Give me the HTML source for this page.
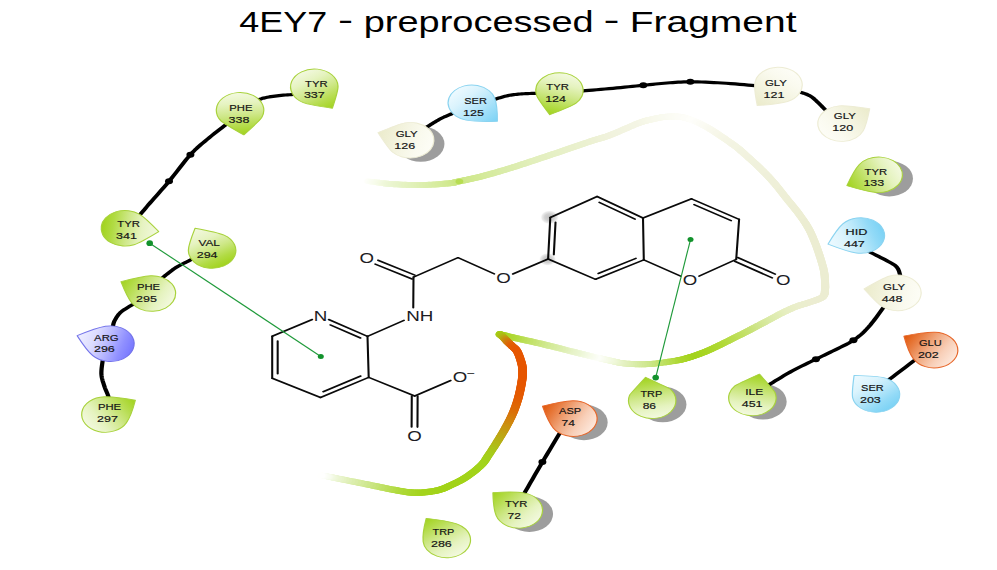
<!DOCTYPE html>
<html><head><meta charset="utf-8"><title>4EY7 - preprocessed - Fragment</title>
<style>
html,body{margin:0;padding:0;background:#fff;}
body{width:997px;height:570px;overflow:hidden;font-family:"Liberation Sans",sans-serif;}
svg{display:block;}
.t{font-family:"Liberation Sans",sans-serif;font-size:30.0px;fill:#000;}
.r{font-family:"Liberation Sans",sans-serif;font-size:9.8px;fill:#151515;stroke:#151515;stroke-width:0.18px;}
.a{font-family:"Liberation Sans",sans-serif;font-size:13.8px;fill:#1c1c24;}
</style></head><body>
<svg width="997" height="570" viewBox="0 0 997 570">
<defs>
<linearGradient id="g0" gradientUnits="userSpaceOnUse" x1="249.3" y1="108.2" x2="226.19" y2="71.77"><stop offset="0" stop-color="#a1d31c"/><stop offset="0.24" stop-color="#b7dd51"/><stop offset="0.48" stop-color="#cfe88a"/><stop offset="0.74" stop-color="#e5f3bf"/><stop offset="1" stop-color="#f3f9e0"/></linearGradient>
<linearGradient id="g1" gradientUnits="userSpaceOnUse" x1="182.85" y1="134.9" x2="178.02" y2="92.62"><stop offset="0" stop-color="#a1d31c"/><stop offset="0.24" stop-color="#b7dd51"/><stop offset="0.48" stop-color="#cfe88a"/><stop offset="0.74" stop-color="#e5f3bf"/><stop offset="1" stop-color="#f3f9e0"/></linearGradient>
<linearGradient id="g2" gradientUnits="userSpaceOnUse" x1="119.02" y1="231.6" x2="76.02" y2="226"><stop offset="0" stop-color="#f3f9e0"/><stop offset="0.3" stop-color="#e6f3c1"/><stop offset="0.55" stop-color="#cee888"/><stop offset="0.8" stop-color="#b1db43"/><stop offset="1" stop-color="#a1d31c"/></linearGradient>
<linearGradient id="g3" gradientUnits="userSpaceOnUse" x1="146.33" y1="228.2" x2="167.91" y2="265.95"><stop offset="0" stop-color="#f3f9e0"/><stop offset="0.3" stop-color="#e6f3c1"/><stop offset="0.55" stop-color="#cee888"/><stop offset="0.8" stop-color="#b1db43"/><stop offset="1" stop-color="#a1d31c"/></linearGradient>
<linearGradient id="g4" gradientUnits="userSpaceOnUse" x1="90.75" y1="281.7" x2="129.79" y2="301.58"><stop offset="0" stop-color="#a1d31c"/><stop offset="0.24" stop-color="#b7dd51"/><stop offset="0.48" stop-color="#cfe88a"/><stop offset="0.74" stop-color="#e5f3bf"/><stop offset="1" stop-color="#f3f9e0"/></linearGradient>
<linearGradient id="g5" gradientUnits="userSpaceOnUse" x1="57.9" y1="335.7" x2="99.75" y2="349.14"><stop offset="0" stop-color="#efefff"/><stop offset="0.3" stop-color="#dcdcff"/><stop offset="0.55" stop-color="#b9b9ff"/><stop offset="0.8" stop-color="#9090ff"/><stop offset="1" stop-color="#7878ff"/></linearGradient>
<linearGradient id="g6" gradientUnits="userSpaceOnUse" x1="101.5" y1="400.23" x2="64.03" y2="424.05"><stop offset="0" stop-color="#a1d31c"/><stop offset="0.24" stop-color="#b7dd51"/><stop offset="0.48" stop-color="#cfe88a"/><stop offset="0.74" stop-color="#e5f3bf"/><stop offset="1" stop-color="#f3f9e0"/></linearGradient>
<linearGradient id="g7" gradientUnits="userSpaceOnUse" x1="283.5" y1="132.6" x2="324.63" y2="145.54"><stop offset="0" stop-color="#ebebcb"/><stop offset="0.24" stop-color="#f0f0d7"/><stop offset="0.48" stop-color="#f5f5e3"/><stop offset="0.74" stop-color="#fafaef"/><stop offset="1" stop-color="#fdfdf6"/></linearGradient>
<linearGradient id="g8" gradientUnits="userSpaceOnUse" x1="373.03" y1="121.23" x2="341.02" y2="90.46"><stop offset="0" stop-color="#7bd2f5"/><stop offset="0.24" stop-color="#9addf8"/><stop offset="0.48" stop-color="#bbe8fb"/><stop offset="0.74" stop-color="#daf3fd"/><stop offset="1" stop-color="#eefaff"/></linearGradient>
<linearGradient id="g9" gradientUnits="userSpaceOnUse" x1="412.35" y1="114.7" x2="424.63" y2="73.44"><stop offset="0" stop-color="#a1d31c"/><stop offset="0.24" stop-color="#b7dd51"/><stop offset="0.48" stop-color="#cfe88a"/><stop offset="0.74" stop-color="#e5f3bf"/><stop offset="1" stop-color="#f3f9e0"/></linearGradient>
<linearGradient id="g10" gradientUnits="userSpaceOnUse" x1="567.98" y1="105.6" x2="594.75" y2="70.91"><stop offset="0" stop-color="#ebebcb"/><stop offset="0.24" stop-color="#f0f0d7"/><stop offset="0.48" stop-color="#f5f5e3"/><stop offset="0.74" stop-color="#fafaef"/><stop offset="1" stop-color="#fdfdf6"/></linearGradient>
<linearGradient id="g11" gradientUnits="userSpaceOnUse" x1="652.28" y1="108.8" x2="616.54" y2="133.81"><stop offset="0" stop-color="#ebebcb"/><stop offset="0.24" stop-color="#f0f0d7"/><stop offset="0.48" stop-color="#f5f5e3"/><stop offset="0.74" stop-color="#fafaef"/><stop offset="1" stop-color="#fdfdf6"/></linearGradient>
<linearGradient id="g12" gradientUnits="userSpaceOnUse" x1="635.18" y1="185.7" x2="675.21" y2="167.4"><stop offset="0" stop-color="#a1d31c"/><stop offset="0.24" stop-color="#b7dd51"/><stop offset="0.48" stop-color="#cfe88a"/><stop offset="0.74" stop-color="#e5f3bf"/><stop offset="1" stop-color="#f3f9e0"/></linearGradient>
<linearGradient id="g13" gradientUnits="userSpaceOnUse" x1="621" y1="244.1" x2="662.4" y2="229.63"><stop offset="0" stop-color="#eefaff"/><stop offset="0.3" stop-color="#dcf4fd"/><stop offset="0.55" stop-color="#bae8fa"/><stop offset="0.8" stop-color="#92daf7"/><stop offset="1" stop-color="#7bd2f5"/></linearGradient>
<linearGradient id="g14" gradientUnits="userSpaceOnUse" x1="648.08" y1="288.9" x2="690.63" y2="295.71"><stop offset="0" stop-color="#ebebcb"/><stop offset="0.24" stop-color="#f0f0d7"/><stop offset="0.48" stop-color="#f5f5e3"/><stop offset="0.74" stop-color="#fafaef"/><stop offset="1" stop-color="#fdfdf6"/></linearGradient>
<linearGradient id="g15" gradientUnits="userSpaceOnUse" x1="677.97" y1="336.08" x2="715.7" y2="359.48"><stop offset="0" stop-color="#e05608"/><stop offset="0.24" stop-color="#e87d41"/><stop offset="0.48" stop-color="#f0a87f"/><stop offset="0.74" stop-color="#f8cfb8"/><stop offset="1" stop-color="#fde8dc"/></linearGradient>
<linearGradient id="g16" gradientUnits="userSpaceOnUse" x1="640.58" y1="375.4" x2="668.61" y2="408"><stop offset="0" stop-color="#eefaff"/><stop offset="0.3" stop-color="#dcf4fd"/><stop offset="0.55" stop-color="#bae8fa"/><stop offset="0.8" stop-color="#92daf7"/><stop offset="1" stop-color="#7bd2f5"/></linearGradient>
<linearGradient id="g17" gradientUnits="userSpaceOnUse" x1="569.55" y1="374.1" x2="560.47" y2="415.28"><stop offset="0" stop-color="#a1d31c"/><stop offset="0.24" stop-color="#b7dd51"/><stop offset="0.48" stop-color="#cfe88a"/><stop offset="0.74" stop-color="#e5f3bf"/><stop offset="1" stop-color="#f3f9e0"/></linearGradient>
<linearGradient id="g18" gradientUnits="userSpaceOnUse" x1="484.2" y1="377.3" x2="492.83" y2="418.11"><stop offset="0" stop-color="#a1d31c"/><stop offset="0.24" stop-color="#b7dd51"/><stop offset="0.48" stop-color="#cfe88a"/><stop offset="0.74" stop-color="#e5f3bf"/><stop offset="1" stop-color="#f3f9e0"/></linearGradient>
<linearGradient id="g19" gradientUnits="userSpaceOnUse" x1="406.88" y1="406.2" x2="445.74" y2="427"><stop offset="0" stop-color="#e05608"/><stop offset="0.24" stop-color="#e87d41"/><stop offset="0.48" stop-color="#f0a87f"/><stop offset="0.74" stop-color="#f8cfb8"/><stop offset="1" stop-color="#fde8dc"/></linearGradient>
<linearGradient id="g20" gradientUnits="userSpaceOnUse" x1="369.68" y1="492.6" x2="402.26" y2="522.29"><stop offset="0" stop-color="#a1d31c"/><stop offset="0.24" stop-color="#b7dd51"/><stop offset="0.48" stop-color="#cfe88a"/><stop offset="0.74" stop-color="#e5f3bf"/><stop offset="1" stop-color="#f3f9e0"/></linearGradient>
<linearGradient id="g21" gradientUnits="userSpaceOnUse" x1="319.67" y1="518.33" x2="345.42" y2="554.5"><stop offset="0" stop-color="#a1d31c"/><stop offset="0.24" stop-color="#b7dd51"/><stop offset="0.48" stop-color="#cfe88a"/><stop offset="0.74" stop-color="#e5f3bf"/><stop offset="1" stop-color="#f3f9e0"/></linearGradient>
<radialGradient id="halo"><stop offset="0" stop-color="#c2c2c2"/><stop offset="0.5" stop-color="#d0d0d0"/><stop offset="0.8" stop-color="#e6e6e6" stop-opacity="0.8"/><stop offset="1" stop-color="#ffffff" stop-opacity="0"/></radialGradient>
</defs>
<rect width="997" height="570" fill="#ffffff"/>
<g transform="scale(1.333333 1)">
<g fill="none" stroke-linecap="round">
<line x1="275.25" y1="181.1" x2="275.83" y2="181.2" stroke="#fffffe" stroke-width="5.61"/>
<line x1="275.83" y1="181.2" x2="276.59" y2="181.34" stroke="#fefefc" stroke-width="5.63"/>
<line x1="276.59" y1="181.34" x2="277.48" y2="181.5" stroke="#fdfef9" stroke-width="5.65"/>
<line x1="277.48" y1="181.5" x2="278.48" y2="181.68" stroke="#fcfef7" stroke-width="5.67"/>
<line x1="278.48" y1="181.68" x2="279.56" y2="181.87" stroke="#fbfdf5" stroke-width="5.69"/>
<line x1="279.56" y1="181.87" x2="280.68" y2="182.07" stroke="#fafdf2" stroke-width="5.71"/>
<line x1="280.68" y1="182.07" x2="281.82" y2="182.27" stroke="#f9fcf0" stroke-width="5.73"/>
<line x1="281.82" y1="182.27" x2="282.94" y2="182.46" stroke="#f8fcee" stroke-width="5.75"/>
<line x1="282.94" y1="182.46" x2="284.01" y2="182.64" stroke="#f7fceb" stroke-width="5.77"/>
<line x1="284.01" y1="182.64" x2="285" y2="182.8" stroke="#f6fbe9" stroke-width="5.79"/>
<line x1="285" y1="182.8" x2="285.88" y2="182.95" stroke="#f6fbe7" stroke-width="5.81"/>
<line x1="285.88" y1="182.95" x2="286.67" y2="183.09" stroke="#f4fae5" stroke-width="5.83"/>
<line x1="286.67" y1="183.09" x2="287.39" y2="183.23" stroke="#f4fae3" stroke-width="5.85"/>
<line x1="287.39" y1="183.23" x2="288.1" y2="183.36" stroke="#f2f9e1" stroke-width="5.87"/>
<line x1="288.1" y1="183.36" x2="288.83" y2="183.49" stroke="#f2f9df" stroke-width="5.89"/>
<line x1="288.83" y1="183.49" x2="289.61" y2="183.62" stroke="#f0f8dd" stroke-width="5.91"/>
<line x1="289.61" y1="183.62" x2="290.49" y2="183.74" stroke="#f0f8db" stroke-width="5.93"/>
<line x1="290.49" y1="183.74" x2="291.5" y2="183.87" stroke="#eef7d9" stroke-width="5.95"/>
<line x1="291.5" y1="183.87" x2="292.68" y2="183.98" stroke="#eef7d7" stroke-width="5.97"/>
<line x1="292.68" y1="183.98" x2="294.08" y2="184.1" stroke="#ecf6d5" stroke-width="5.99"/>
<line x1="294.08" y1="184.1" x2="295.7" y2="184.22" stroke="#ebf6d2" stroke-width="6"/>
<line x1="295.7" y1="184.22" x2="297.52" y2="184.36" stroke="#eaf5cf" stroke-width="6"/>
<line x1="297.52" y1="184.36" x2="299.52" y2="184.51" stroke="#e9f4cc" stroke-width="6"/>
<line x1="299.52" y1="184.51" x2="301.64" y2="184.65" stroke="#e7f4c9" stroke-width="6"/>
<line x1="301.64" y1="184.65" x2="303.86" y2="184.79" stroke="#e6f3c6" stroke-width="6"/>
<line x1="303.86" y1="184.79" x2="306.14" y2="184.91" stroke="#e5f3c2" stroke-width="6"/>
<line x1="306.14" y1="184.91" x2="308.45" y2="185.01" stroke="#e4f2bf" stroke-width="6"/>
<line x1="308.45" y1="185.01" x2="310.74" y2="185.08" stroke="#e2f2bc" stroke-width="6"/>
<line x1="310.74" y1="185.08" x2="312.99" y2="185.11" stroke="#e1f1b9" stroke-width="6"/>
<line x1="312.99" y1="185.11" x2="315.15" y2="185.1" stroke="#e0f0b6" stroke-width="6"/>
<line x1="315.15" y1="185.1" x2="317.32" y2="185.04" stroke="#def0b2" stroke-width="6"/>
<line x1="317.32" y1="185.04" x2="319.57" y2="184.94" stroke="#ddefaf" stroke-width="6"/>
<line x1="319.57" y1="184.94" x2="321.88" y2="184.8" stroke="#dceeac" stroke-width="6"/>
<line x1="321.88" y1="184.8" x2="324.2" y2="184.63" stroke="#daeea9" stroke-width="6"/>
<line x1="324.2" y1="184.63" x2="326.49" y2="184.44" stroke="#d9eda6" stroke-width="6"/>
<line x1="326.49" y1="184.44" x2="328.72" y2="184.24" stroke="#d8eda2" stroke-width="6"/>
<line x1="328.72" y1="184.24" x2="330.85" y2="184.02" stroke="#d7ec9f" stroke-width="6"/>
<line x1="330.85" y1="184.02" x2="332.83" y2="183.81" stroke="#d5ec9c" stroke-width="6"/>
<line x1="332.83" y1="183.81" x2="334.64" y2="183.6" stroke="#d4eb99" stroke-width="6"/>
<line x1="334.64" y1="183.6" x2="336.23" y2="183.4" stroke="#d3ea96" stroke-width="6"/>
<line x1="336.23" y1="183.4" x2="337.54" y2="183.22" stroke="#d2ea93" stroke-width="6"/>
<line x1="337.54" y1="183.22" x2="338.58" y2="183.04" stroke="#d1ea91" stroke-width="6"/>
<line x1="338.58" y1="183.04" x2="339.41" y2="182.88" stroke="#d0e990" stroke-width="6"/>
<line x1="339.41" y1="182.88" x2="340.1" y2="182.7" stroke="#d0e98e" stroke-width="6"/>
<line x1="340.1" y1="182.7" x2="340.7" y2="182.53" stroke="#cfe98c" stroke-width="6"/>
<line x1="340.7" y1="182.53" x2="341.27" y2="182.33" stroke="#cee88a" stroke-width="6"/>
<line x1="341.27" y1="182.33" x2="341.87" y2="182.12" stroke="#cde888" stroke-width="6"/>
<line x1="341.87" y1="182.12" x2="342.56" y2="181.88" stroke="#cde886" stroke-width="6"/>
<line x1="342.56" y1="181.88" x2="343.41" y2="181.61" stroke="#cce785" stroke-width="6"/>
<line x1="343.41" y1="181.61" x2="344.48" y2="181.3" stroke="#cbe783" stroke-width="6"/>
<line x1="344.48" y1="181.3" x2="345.71" y2="180.96" stroke="#cbe783" stroke-width="6"/>
<line x1="345.71" y1="180.96" x2="347.03" y2="180.61" stroke="#cce785" stroke-width="6"/>
<line x1="347.03" y1="180.61" x2="348.42" y2="180.24" stroke="#cde886" stroke-width="6"/>
<line x1="348.42" y1="180.24" x2="349.89" y2="179.84" stroke="#cde888" stroke-width="6"/>
<line x1="349.89" y1="179.84" x2="351.44" y2="179.42" stroke="#cee88a" stroke-width="6"/>
<line x1="351.44" y1="179.42" x2="353.04" y2="178.97" stroke="#cfe88c" stroke-width="6"/>
<line x1="353.04" y1="178.97" x2="354.71" y2="178.48" stroke="#d0e88e" stroke-width="6"/>
<line x1="354.71" y1="178.48" x2="356.42" y2="177.96" stroke="#d0e890" stroke-width="6"/>
<line x1="356.42" y1="177.96" x2="358.19" y2="177.4" stroke="#d1e991" stroke-width="6"/>
<line x1="358.19" y1="177.4" x2="360" y2="176.8" stroke="#d2e993" stroke-width="6"/>
<line x1="360" y1="176.8" x2="361.88" y2="176.15" stroke="#d2e995" stroke-width="6"/>
<line x1="361.88" y1="176.15" x2="363.86" y2="175.44" stroke="#d3e997" stroke-width="6"/>
<line x1="363.86" y1="175.44" x2="365.91" y2="174.69" stroke="#d4ea9a" stroke-width="6"/>
<line x1="365.91" y1="174.69" x2="368.03" y2="173.9" stroke="#d5ea9c" stroke-width="6"/>
<line x1="368.03" y1="173.9" x2="370.19" y2="173.09" stroke="#d6ea9e" stroke-width="6"/>
<line x1="370.19" y1="173.09" x2="372.38" y2="172.25" stroke="#d6eba0" stroke-width="6"/>
<line x1="372.38" y1="172.25" x2="374.58" y2="171.39" stroke="#d7eba2" stroke-width="6"/>
<line x1="374.58" y1="171.39" x2="376.77" y2="170.53" stroke="#d8eba4" stroke-width="6"/>
<line x1="376.77" y1="170.53" x2="378.94" y2="169.66" stroke="#d9eca7" stroke-width="6"/>
<line x1="378.94" y1="169.66" x2="381.08" y2="168.8" stroke="#daeca9" stroke-width="6"/>
<line x1="381.08" y1="168.8" x2="383.18" y2="167.94" stroke="#daecab" stroke-width="6"/>
<line x1="383.18" y1="167.94" x2="385.29" y2="167.06" stroke="#dbecad" stroke-width="6"/>
<line x1="385.29" y1="167.06" x2="387.4" y2="166.16" stroke="#dcedae" stroke-width="6"/>
<line x1="387.4" y1="166.16" x2="389.51" y2="165.25" stroke="#ddedb0" stroke-width="6"/>
<line x1="389.51" y1="165.25" x2="391.61" y2="164.34" stroke="#deedb2" stroke-width="6"/>
<line x1="391.61" y1="164.34" x2="393.72" y2="163.41" stroke="#deeeb4" stroke-width="6"/>
<line x1="393.72" y1="163.41" x2="395.83" y2="162.49" stroke="#dfeeb6" stroke-width="6"/>
<line x1="395.83" y1="162.49" x2="397.94" y2="161.56" stroke="#e0eeb8" stroke-width="6"/>
<line x1="397.94" y1="161.56" x2="400.04" y2="160.63" stroke="#e1efb9" stroke-width="6"/>
<line x1="400.04" y1="160.63" x2="402.15" y2="159.7" stroke="#e2efbb" stroke-width="6"/>
<line x1="402.15" y1="159.7" x2="404.26" y2="158.77" stroke="#e2efbd" stroke-width="6"/>
<line x1="404.26" y1="158.77" x2="406.37" y2="157.84" stroke="#e3efbe" stroke-width="6"/>
<line x1="406.37" y1="157.84" x2="408.47" y2="156.91" stroke="#e3efbf" stroke-width="6"/>
<line x1="408.47" y1="156.91" x2="410.58" y2="155.97" stroke="#e4efc0" stroke-width="6"/>
<line x1="410.58" y1="155.97" x2="412.69" y2="155.03" stroke="#e4efc1" stroke-width="6"/>
<line x1="412.69" y1="155.03" x2="414.8" y2="154.09" stroke="#e5f0c3" stroke-width="6"/>
<line x1="414.8" y1="154.09" x2="416.9" y2="153.14" stroke="#e5f0c4" stroke-width="6"/>
<line x1="416.9" y1="153.14" x2="419.01" y2="152.2" stroke="#e6f0c5" stroke-width="6"/>
<line x1="419.01" y1="152.2" x2="421.12" y2="151.25" stroke="#e6f0c6" stroke-width="6"/>
<line x1="421.12" y1="151.25" x2="423.22" y2="150.3" stroke="#e7f0c7" stroke-width="6"/>
<line x1="423.22" y1="150.3" x2="425.37" y2="149.33" stroke="#e7f0c8" stroke-width="6"/>
<line x1="425.37" y1="149.33" x2="427.57" y2="148.33" stroke="#e8f0ca" stroke-width="6"/>
<line x1="427.57" y1="148.33" x2="429.8" y2="147.31" stroke="#e8f0ca" stroke-width="6"/>
<line x1="429.8" y1="147.31" x2="432.03" y2="146.28" stroke="#e9f0cc" stroke-width="6"/>
<line x1="432.03" y1="146.28" x2="434.25" y2="145.26" stroke="#e9f0cc" stroke-width="6"/>
<line x1="434.25" y1="145.26" x2="436.44" y2="144.25" stroke="#eaf1ce" stroke-width="6"/>
<line x1="436.44" y1="144.25" x2="438.56" y2="143.28" stroke="#eaf1ce" stroke-width="6"/>
<line x1="438.56" y1="143.28" x2="440.59" y2="142.36" stroke="#ebf1d0" stroke-width="6"/>
<line x1="440.59" y1="142.36" x2="442.51" y2="141.49" stroke="#ebf1d0" stroke-width="6"/>
<line x1="442.51" y1="141.49" x2="444.3" y2="140.7" stroke="#ecf1d2" stroke-width="6"/>
<line x1="444.3" y1="140.7" x2="445.9" y2="140.01" stroke="#ecf1d2" stroke-width="6"/>
<line x1="445.9" y1="140.01" x2="447.32" y2="139.44" stroke="#edf1d4" stroke-width="6"/>
<line x1="447.32" y1="139.44" x2="448.59" y2="138.95" stroke="#edf1d4" stroke-width="6"/>
<line x1="448.59" y1="138.95" x2="449.77" y2="138.51" stroke="#edf1d6" stroke-width="6"/>
<line x1="449.77" y1="138.51" x2="450.9" y2="138.09" stroke="#eef1d6" stroke-width="6"/>
<line x1="450.9" y1="138.09" x2="452.03" y2="137.66" stroke="#eef2d8" stroke-width="6"/>
<line x1="452.03" y1="137.66" x2="453.21" y2="137.19" stroke="#eff2d8" stroke-width="6"/>
<line x1="453.21" y1="137.19" x2="454.48" y2="136.64" stroke="#eff2da" stroke-width="6"/>
<line x1="454.48" y1="136.64" x2="455.9" y2="135.99" stroke="#eff2da" stroke-width="6"/>
<line x1="455.9" y1="135.99" x2="457.5" y2="135.2" stroke="#f0f2dc" stroke-width="6"/>
<line x1="457.5" y1="135.2" x2="459.34" y2="134.23" stroke="#f0f2dc" stroke-width="6"/>
<line x1="459.34" y1="134.23" x2="461.38" y2="133.1" stroke="#f1f2dd" stroke-width="6"/>
<line x1="461.38" y1="133.1" x2="463.58" y2="131.85" stroke="#f1f3de" stroke-width="6"/>
<line x1="463.58" y1="131.85" x2="465.87" y2="130.52" stroke="#f1f3df" stroke-width="6"/>
<line x1="465.87" y1="130.52" x2="468.21" y2="129.16" stroke="#f2f3e0" stroke-width="6"/>
<line x1="468.21" y1="129.16" x2="470.53" y2="127.8" stroke="#f2f4e0" stroke-width="6"/>
<line x1="470.53" y1="127.8" x2="472.79" y2="126.49" stroke="#f3f4e1" stroke-width="6"/>
<line x1="472.79" y1="126.49" x2="474.92" y2="125.28" stroke="#f3f4e2" stroke-width="6"/>
<line x1="474.92" y1="125.28" x2="476.86" y2="124.2" stroke="#f3f5e3" stroke-width="6"/>
<line x1="476.86" y1="124.2" x2="478.58" y2="123.3" stroke="#f4f5e4" stroke-width="6"/>
<line x1="478.58" y1="123.3" x2="480.05" y2="122.57" stroke="#f4f5e4" stroke-width="6"/>
<line x1="480.05" y1="122.57" x2="481.34" y2="121.97" stroke="#f4f5e5" stroke-width="6"/>
<line x1="481.34" y1="121.97" x2="482.48" y2="121.47" stroke="#f5f6e6" stroke-width="6"/>
<line x1="482.48" y1="121.47" x2="483.5" y2="121.06" stroke="#f5f6e6" stroke-width="6"/>
<line x1="483.5" y1="121.06" x2="484.44" y2="120.71" stroke="#f5f6e7" stroke-width="6"/>
<line x1="484.44" y1="120.71" x2="485.33" y2="120.41" stroke="#f6f7e7" stroke-width="6"/>
<line x1="485.33" y1="120.41" x2="486.19" y2="120.14" stroke="#f6f7e8" stroke-width="6"/>
<line x1="486.19" y1="120.14" x2="487.07" y2="119.88" stroke="#f6f7e8" stroke-width="6"/>
<line x1="487.07" y1="119.88" x2="488" y2="119.6" stroke="#f7f8e9" stroke-width="6"/>
<line x1="488" y1="119.6" x2="489" y2="119.3" stroke="#f7f8ea" stroke-width="6"/>
<line x1="489" y1="119.3" x2="490.06" y2="118.98" stroke="#f7f8ea" stroke-width="6"/>
<line x1="490.06" y1="118.98" x2="491.12" y2="118.66" stroke="#f7f8eb" stroke-width="6"/>
<line x1="491.12" y1="118.66" x2="492.18" y2="118.36" stroke="#f8f8ec" stroke-width="6"/>
<line x1="492.18" y1="118.36" x2="493.25" y2="118.07" stroke="#f8f9ec" stroke-width="6"/>
<line x1="493.25" y1="118.07" x2="494.32" y2="117.8" stroke="#f8f9ed" stroke-width="6"/>
<line x1="494.32" y1="117.8" x2="495.39" y2="117.55" stroke="#f8f9ed" stroke-width="6"/>
<line x1="495.39" y1="117.55" x2="496.46" y2="117.32" stroke="#f8f9ee" stroke-width="6"/>
<line x1="496.46" y1="117.32" x2="497.53" y2="117.12" stroke="#f8faee" stroke-width="6"/>
<line x1="497.53" y1="117.12" x2="498.59" y2="116.94" stroke="#f9faef" stroke-width="6"/>
<line x1="498.59" y1="116.94" x2="499.65" y2="116.8" stroke="#f9faf0" stroke-width="6"/>
<line x1="499.65" y1="116.8" x2="500.71" y2="116.68" stroke="#f9faf0" stroke-width="6"/>
<line x1="500.71" y1="116.68" x2="501.76" y2="116.57" stroke="#f9faf1" stroke-width="6"/>
<line x1="501.76" y1="116.57" x2="502.81" y2="116.48" stroke="#fafaf2" stroke-width="6"/>
<line x1="502.81" y1="116.48" x2="503.86" y2="116.42" stroke="#fafbf2" stroke-width="6"/>
<line x1="503.86" y1="116.42" x2="504.9" y2="116.38" stroke="#fafbf3" stroke-width="6"/>
<line x1="504.9" y1="116.38" x2="505.95" y2="116.38" stroke="#fbfbf3" stroke-width="6"/>
<line x1="505.95" y1="116.38" x2="507" y2="116.41" stroke="#fbfbf4" stroke-width="6"/>
<line x1="507" y1="116.41" x2="508.05" y2="116.49" stroke="#fbfcf4" stroke-width="6"/>
<line x1="508.05" y1="116.49" x2="509.1" y2="116.62" stroke="#fcfcf5" stroke-width="6"/>
<line x1="509.1" y1="116.62" x2="510.15" y2="116.8" stroke="#fcfcf6" stroke-width="6"/>
<line x1="510.15" y1="116.8" x2="511.2" y2="117.04" stroke="#fcfcf6" stroke-width="6"/>
<line x1="511.2" y1="117.04" x2="512.26" y2="117.33" stroke="#fcfcf7" stroke-width="6"/>
<line x1="512.26" y1="117.33" x2="513.32" y2="117.66" stroke="#fcfcf7" stroke-width="6"/>
<line x1="513.32" y1="117.66" x2="514.38" y2="118.04" stroke="#fdfdf8" stroke-width="6"/>
<line x1="514.38" y1="118.04" x2="515.44" y2="118.46" stroke="#fdfdf8" stroke-width="6"/>
<line x1="515.44" y1="118.46" x2="516.5" y2="118.92" stroke="#fdfdf9" stroke-width="6"/>
<line x1="516.5" y1="118.92" x2="517.56" y2="119.4" stroke="#fdfdf9" stroke-width="6"/>
<line x1="517.56" y1="119.4" x2="518.61" y2="119.91" stroke="#fefefa" stroke-width="6"/>
<line x1="518.61" y1="119.91" x2="519.67" y2="120.45" stroke="#fefefa" stroke-width="6"/>
<line x1="519.67" y1="120.45" x2="520.73" y2="121" stroke="#fefefb" stroke-width="6"/>
<line x1="520.73" y1="121" x2="521.78" y2="121.58" stroke="#fefefa" stroke-width="6"/>
<line x1="521.78" y1="121.58" x2="522.83" y2="122.19" stroke="#fdfdfa" stroke-width="6"/>
<line x1="522.83" y1="122.19" x2="523.88" y2="122.83" stroke="#fdfdf8" stroke-width="6"/>
<line x1="523.88" y1="122.83" x2="524.93" y2="123.5" stroke="#fdfdf8" stroke-width="6"/>
<line x1="524.93" y1="123.5" x2="525.98" y2="124.19" stroke="#fcfcf6" stroke-width="6"/>
<line x1="525.98" y1="124.19" x2="527.02" y2="124.91" stroke="#fcfcf6" stroke-width="6"/>
<line x1="527.02" y1="124.91" x2="528.07" y2="125.66" stroke="#fbfbf4" stroke-width="6"/>
<line x1="528.07" y1="125.66" x2="529.12" y2="126.42" stroke="#fbfbf4" stroke-width="6"/>
<line x1="529.12" y1="126.42" x2="530.17" y2="127.2" stroke="#fbfbf2" stroke-width="6"/>
<line x1="530.17" y1="127.2" x2="531.23" y2="128" stroke="#fafaf2" stroke-width="6"/>
<line x1="531.23" y1="128" x2="532.28" y2="128.82" stroke="#fafaf0" stroke-width="6"/>
<line x1="532.28" y1="128.82" x2="533.34" y2="129.67" stroke="#f9f9f0" stroke-width="6"/>
<line x1="533.34" y1="129.67" x2="534.39" y2="130.55" stroke="#f9f9ee" stroke-width="6"/>
<line x1="534.39" y1="130.55" x2="535.45" y2="131.45" stroke="#f9f9ee" stroke-width="6"/>
<line x1="535.45" y1="131.45" x2="536.51" y2="132.37" stroke="#f8f8ec" stroke-width="6"/>
<line x1="536.51" y1="132.37" x2="537.57" y2="133.3" stroke="#f8f8ec" stroke-width="6"/>
<line x1="537.57" y1="133.3" x2="538.63" y2="134.25" stroke="#f7f7ea" stroke-width="6"/>
<line x1="538.63" y1="134.25" x2="539.69" y2="135.2" stroke="#f7f7ea" stroke-width="6"/>
<line x1="539.69" y1="135.2" x2="540.75" y2="136.15" stroke="#f7f7e8" stroke-width="6"/>
<line x1="540.75" y1="136.15" x2="541.8" y2="137.1" stroke="#f6f6e8" stroke-width="6"/>
<line x1="541.8" y1="137.1" x2="542.87" y2="138.07" stroke="#f6f6e7" stroke-width="6"/>
<line x1="542.87" y1="138.07" x2="543.97" y2="139.08" stroke="#f6f6e6" stroke-width="6"/>
<line x1="543.97" y1="139.08" x2="545.09" y2="140.1" stroke="#f5f6e6" stroke-width="6"/>
<line x1="545.09" y1="140.1" x2="546.21" y2="141.14" stroke="#f5f5e5" stroke-width="6"/>
<line x1="546.21" y1="141.14" x2="547.33" y2="142.18" stroke="#f5f5e5" stroke-width="6"/>
<line x1="547.33" y1="142.18" x2="548.42" y2="143.21" stroke="#f4f5e4" stroke-width="6"/>
<line x1="548.42" y1="143.21" x2="549.47" y2="144.22" stroke="#f4f5e4" stroke-width="6"/>
<line x1="549.47" y1="144.22" x2="550.48" y2="145.19" stroke="#f4f4e3" stroke-width="6"/>
<line x1="550.48" y1="145.19" x2="551.43" y2="146.12" stroke="#f3f4e3" stroke-width="6"/>
<line x1="551.43" y1="146.12" x2="552.3" y2="147" stroke="#f3f4e2" stroke-width="6"/>
<line x1="552.3" y1="147" x2="553.07" y2="147.79" stroke="#f3f4e2" stroke-width="6"/>
<line x1="553.07" y1="147.79" x2="553.72" y2="148.47" stroke="#f3f4e2" stroke-width="6"/>
<line x1="553.72" y1="148.47" x2="554.29" y2="149.09" stroke="#f3f4e2" stroke-width="6"/>
<line x1="554.29" y1="149.09" x2="554.81" y2="149.67" stroke="#f3f4e1" stroke-width="6"/>
<line x1="554.81" y1="149.67" x2="555.31" y2="150.24" stroke="#f3f4e1" stroke-width="6"/>
<line x1="555.31" y1="150.24" x2="555.81" y2="150.83" stroke="#f2f3e1" stroke-width="6"/>
<line x1="555.81" y1="150.83" x2="556.35" y2="151.47" stroke="#f2f3e1" stroke-width="6"/>
<line x1="556.35" y1="151.47" x2="556.94" y2="152.19" stroke="#f2f3e0" stroke-width="6"/>
<line x1="556.94" y1="152.19" x2="557.64" y2="153.03" stroke="#f2f3e0" stroke-width="6"/>
<line x1="557.64" y1="153.03" x2="558.45" y2="154" stroke="#f2f3e0" stroke-width="6"/>
<line x1="558.45" y1="154" x2="559.39" y2="155.12" stroke="#f2f3e0" stroke-width="6"/>
<line x1="559.39" y1="155.12" x2="560.44" y2="156.37" stroke="#f2f3df" stroke-width="6"/>
<line x1="560.44" y1="156.37" x2="561.57" y2="157.71" stroke="#f2f2df" stroke-width="6"/>
<line x1="561.57" y1="157.71" x2="562.75" y2="159.13" stroke="#f1f2df" stroke-width="6"/>
<line x1="562.75" y1="159.13" x2="563.98" y2="160.61" stroke="#f1f2de" stroke-width="6"/>
<line x1="563.98" y1="160.61" x2="565.23" y2="162.13" stroke="#f1f2de" stroke-width="6"/>
<line x1="565.23" y1="162.13" x2="566.48" y2="163.65" stroke="#f1f2dd" stroke-width="6"/>
<line x1="566.48" y1="163.65" x2="567.7" y2="165.17" stroke="#f0f2dd" stroke-width="6"/>
<line x1="567.7" y1="165.17" x2="568.88" y2="166.66" stroke="#f0f1dd" stroke-width="6"/>
<line x1="568.88" y1="166.66" x2="570" y2="168.1" stroke="#f0f1dc" stroke-width="6"/>
<line x1="570" y1="168.1" x2="571.07" y2="169.49" stroke="#f0f1dc" stroke-width="6"/>
<line x1="571.07" y1="169.49" x2="572.1" y2="170.86" stroke="#f0f1dc" stroke-width="6"/>
<line x1="572.1" y1="170.86" x2="573.12" y2="172.22" stroke="#f0f1db" stroke-width="6"/>
<line x1="573.12" y1="172.22" x2="574.12" y2="173.57" stroke="#f0f1db" stroke-width="6"/>
<line x1="574.12" y1="173.57" x2="575.11" y2="174.93" stroke="#f0f1db" stroke-width="6"/>
<line x1="575.11" y1="174.93" x2="576.09" y2="176.3" stroke="#eff0da" stroke-width="6"/>
<line x1="576.09" y1="176.3" x2="577.07" y2="177.69" stroke="#eff0da" stroke-width="6"/>
<line x1="577.07" y1="177.69" x2="578.05" y2="179.12" stroke="#eff0da" stroke-width="6"/>
<line x1="578.05" y1="179.12" x2="579.05" y2="180.58" stroke="#eff0d9" stroke-width="6"/>
<line x1="579.05" y1="180.58" x2="580.05" y2="182.1" stroke="#eff0d9" stroke-width="6"/>
<line x1="580.05" y1="182.1" x2="581.07" y2="183.68" stroke="#eff0d9" stroke-width="6"/>
<line x1="581.07" y1="183.68" x2="582.1" y2="185.32" stroke="#eff0d9" stroke-width="6"/>
<line x1="582.1" y1="185.32" x2="583.14" y2="187.02" stroke="#eff0d8" stroke-width="6"/>
<line x1="583.14" y1="187.02" x2="584.18" y2="188.74" stroke="#eff0d8" stroke-width="6"/>
<line x1="584.18" y1="188.74" x2="585.22" y2="190.49" stroke="#eff0d8" stroke-width="6"/>
<line x1="585.22" y1="190.49" x2="586.25" y2="192.24" stroke="#eeefd7" stroke-width="6"/>
<line x1="586.25" y1="192.24" x2="587.27" y2="193.98" stroke="#eeefd7" stroke-width="6"/>
<line x1="587.27" y1="193.98" x2="588.28" y2="195.7" stroke="#eeefd7" stroke-width="6"/>
<line x1="588.28" y1="195.7" x2="589.28" y2="197.37" stroke="#eeefd6" stroke-width="6"/>
<line x1="589.28" y1="197.37" x2="590.25" y2="199" stroke="#eeefd6" stroke-width="6"/>
<line x1="590.25" y1="199" x2="591.21" y2="200.58" stroke="#eeefd6" stroke-width="6"/>
<line x1="591.21" y1="200.58" x2="592.16" y2="202.14" stroke="#eeefd6" stroke-width="6"/>
<line x1="592.16" y1="202.14" x2="593.1" y2="203.67" stroke="#eeefd6" stroke-width="6"/>
<line x1="593.1" y1="203.67" x2="594.03" y2="205.18" stroke="#eeefd5" stroke-width="6"/>
<line x1="594.03" y1="205.18" x2="594.95" y2="206.68" stroke="#eeefd5" stroke-width="6"/>
<line x1="594.95" y1="206.68" x2="595.85" y2="208.16" stroke="#edeed5" stroke-width="6"/>
<line x1="595.85" y1="208.16" x2="596.73" y2="209.63" stroke="#edeed5" stroke-width="6"/>
<line x1="596.73" y1="209.63" x2="597.59" y2="211.09" stroke="#edeed4" stroke-width="6"/>
<line x1="597.59" y1="211.09" x2="598.43" y2="212.55" stroke="#edeed4" stroke-width="6"/>
<line x1="598.43" y1="212.55" x2="599.25" y2="214" stroke="#edeed4" stroke-width="6"/>
<line x1="599.25" y1="214" x2="600.04" y2="215.45" stroke="#edeed4" stroke-width="6"/>
<line x1="600.04" y1="215.45" x2="600.82" y2="216.88" stroke="#edeed4" stroke-width="6"/>
<line x1="600.82" y1="216.88" x2="601.58" y2="218.3" stroke="#edeed4" stroke-width="6"/>
<line x1="601.58" y1="218.3" x2="602.32" y2="219.71" stroke="#edeed3" stroke-width="6"/>
<line x1="602.32" y1="219.71" x2="603.04" y2="221.11" stroke="#edeed3" stroke-width="6"/>
<line x1="603.04" y1="221.11" x2="603.74" y2="222.51" stroke="#ecedd3" stroke-width="6"/>
<line x1="603.74" y1="222.51" x2="604.41" y2="223.91" stroke="#ecedd3" stroke-width="6"/>
<line x1="604.41" y1="223.91" x2="605.07" y2="225.3" stroke="#ecedd2" stroke-width="6"/>
<line x1="605.07" y1="225.3" x2="605.69" y2="226.7" stroke="#ecedd2" stroke-width="6"/>
<line x1="605.69" y1="226.7" x2="606.3" y2="228.1" stroke="#ecedd2" stroke-width="6"/>
<line x1="606.3" y1="228.1" x2="606.88" y2="229.5" stroke="#ecedd2" stroke-width="6"/>
<line x1="606.88" y1="229.5" x2="607.42" y2="230.9" stroke="#ecedd2" stroke-width="6"/>
<line x1="607.42" y1="230.9" x2="607.94" y2="232.3" stroke="#ecedd2" stroke-width="6"/>
<line x1="607.94" y1="232.3" x2="608.43" y2="233.7" stroke="#ecedd2" stroke-width="6"/>
<line x1="608.43" y1="233.7" x2="608.91" y2="235.1" stroke="#ecedd2" stroke-width="6"/>
<line x1="608.91" y1="235.1" x2="609.36" y2="236.5" stroke="#ecedd2" stroke-width="6"/>
<line x1="609.36" y1="236.5" x2="609.81" y2="237.9" stroke="#ecedd2" stroke-width="6"/>
<line x1="609.81" y1="237.9" x2="610.24" y2="239.3" stroke="#ecedd2" stroke-width="6"/>
<line x1="610.24" y1="239.3" x2="610.67" y2="240.7" stroke="#ecedd2" stroke-width="6"/>
<line x1="610.67" y1="240.7" x2="611.1" y2="242.1" stroke="#ecedd2" stroke-width="6"/>
<line x1="611.1" y1="242.1" x2="611.52" y2="243.51" stroke="#ecedd2" stroke-width="6"/>
<line x1="611.52" y1="243.51" x2="611.93" y2="244.92" stroke="#ecedd2" stroke-width="6"/>
<line x1="611.93" y1="244.92" x2="612.33" y2="246.33" stroke="#ecedd2" stroke-width="6"/>
<line x1="612.33" y1="246.33" x2="612.71" y2="247.74" stroke="#ecedd2" stroke-width="6"/>
<line x1="612.71" y1="247.74" x2="613.09" y2="249.15" stroke="#ecedd2" stroke-width="6"/>
<line x1="613.09" y1="249.15" x2="613.45" y2="250.56" stroke="#ecedd2" stroke-width="6"/>
<line x1="613.45" y1="250.56" x2="613.81" y2="251.97" stroke="#ecedd2" stroke-width="6"/>
<line x1="613.81" y1="251.97" x2="614.16" y2="253.38" stroke="#ecedd2" stroke-width="6"/>
<line x1="614.16" y1="253.38" x2="614.51" y2="254.79" stroke="#ecedd2" stroke-width="6"/>
<line x1="614.51" y1="254.79" x2="614.85" y2="256.2" stroke="#ecedd2" stroke-width="6"/>
<line x1="614.85" y1="256.2" x2="615.19" y2="257.62" stroke="#ecedd2" stroke-width="6"/>
<line x1="615.19" y1="257.62" x2="615.53" y2="259.06" stroke="#ecedd2" stroke-width="6"/>
<line x1="615.53" y1="259.06" x2="615.87" y2="260.51" stroke="#ecedd2" stroke-width="6"/>
<line x1="615.87" y1="260.51" x2="616.2" y2="261.96" stroke="#ecedd2" stroke-width="6"/>
<line x1="616.2" y1="261.96" x2="616.53" y2="263.41" stroke="#ecedd2" stroke-width="6"/>
<line x1="616.53" y1="263.41" x2="616.84" y2="264.84" stroke="#ecedd2" stroke-width="6"/>
<line x1="616.84" y1="264.84" x2="617.13" y2="266.24" stroke="#ecedd2" stroke-width="6"/>
<line x1="617.13" y1="266.24" x2="617.4" y2="267.61" stroke="#ecedd2" stroke-width="6"/>
<line x1="617.4" y1="267.61" x2="617.64" y2="268.93" stroke="#ecedd2" stroke-width="6"/>
<line x1="617.64" y1="268.93" x2="617.85" y2="270.2" stroke="#ecedd2" stroke-width="6"/>
<line x1="617.85" y1="270.2" x2="618.03" y2="271.42" stroke="#ecedd2" stroke-width="6"/>
<line x1="618.03" y1="271.42" x2="618.18" y2="272.59" stroke="#ecedd2" stroke-width="6"/>
<line x1="618.18" y1="272.59" x2="618.3" y2="273.73" stroke="#ecedd2" stroke-width="6"/>
<line x1="618.3" y1="273.73" x2="618.4" y2="274.84" stroke="#ecedd2" stroke-width="6"/>
<line x1="618.4" y1="274.84" x2="618.49" y2="275.91" stroke="#ecedd2" stroke-width="6"/>
<line x1="618.49" y1="275.91" x2="618.56" y2="276.96" stroke="#ecedd2" stroke-width="6"/>
<line x1="618.56" y1="276.96" x2="618.61" y2="277.99" stroke="#ecedd2" stroke-width="6"/>
<line x1="618.61" y1="277.99" x2="618.66" y2="279.01" stroke="#ecedd2" stroke-width="6"/>
<line x1="618.66" y1="279.01" x2="618.71" y2="280.01" stroke="#ecedd2" stroke-width="6"/>
<line x1="618.71" y1="280.01" x2="618.75" y2="281" stroke="#ecedd2" stroke-width="6"/>
<line x1="618.75" y1="281" x2="618.79" y2="281.98" stroke="#ecedd2" stroke-width="6"/>
<line x1="618.79" y1="281.98" x2="618.84" y2="282.95" stroke="#ecedd2" stroke-width="6"/>
<line x1="618.84" y1="282.95" x2="618.87" y2="283.9" stroke="#ecedd2" stroke-width="6"/>
<line x1="618.87" y1="283.9" x2="618.9" y2="284.83" stroke="#ecedd2" stroke-width="6"/>
<line x1="618.9" y1="284.83" x2="618.92" y2="285.74" stroke="#ecedd2" stroke-width="6"/>
<line x1="618.92" y1="285.74" x2="618.92" y2="286.63" stroke="#ecedd2" stroke-width="6"/>
<line x1="618.92" y1="286.63" x2="618.91" y2="287.5" stroke="#ecedd2" stroke-width="6"/>
<line x1="618.91" y1="287.5" x2="618.88" y2="288.36" stroke="#ecedd2" stroke-width="6"/>
<line x1="618.88" y1="288.36" x2="618.83" y2="289.19" stroke="#ecedd2" stroke-width="6"/>
<line x1="618.83" y1="289.19" x2="618.75" y2="290" stroke="#ecedd2" stroke-width="6"/>
<line x1="618.75" y1="290" x2="618.68" y2="290.79" stroke="#ecedd2" stroke-width="6"/>
<line x1="618.68" y1="290.79" x2="618.63" y2="291.56" stroke="#ecedd2" stroke-width="6"/>
<line x1="618.63" y1="291.56" x2="618.58" y2="292.31" stroke="#ecedd2" stroke-width="6"/>
<line x1="618.58" y1="292.31" x2="618.52" y2="293.04" stroke="#ecedd2" stroke-width="6"/>
<line x1="618.52" y1="293.04" x2="618.43" y2="293.74" stroke="#ecedd2" stroke-width="6"/>
<line x1="618.43" y1="293.74" x2="618.3" y2="294.43" stroke="#ecedd2" stroke-width="6"/>
<line x1="618.3" y1="294.43" x2="618.1" y2="295.1" stroke="#ecedd2" stroke-width="6"/>
<line x1="618.1" y1="295.1" x2="617.82" y2="295.75" stroke="#ecedd2" stroke-width="6"/>
<line x1="617.82" y1="295.75" x2="617.44" y2="296.39" stroke="#ecedd2" stroke-width="6"/>
<line x1="617.44" y1="296.39" x2="616.95" y2="297" stroke="#ecedd2" stroke-width="6"/>
<line x1="616.95" y1="297" x2="616.33" y2="297.59" stroke="#ecedd2" stroke-width="6"/>
<line x1="616.33" y1="297.59" x2="615.59" y2="298.15" stroke="#ecedd2" stroke-width="6"/>
<line x1="615.59" y1="298.15" x2="614.75" y2="298.69" stroke="#ecedd2" stroke-width="6"/>
<line x1="614.75" y1="298.69" x2="613.83" y2="299.21" stroke="#ecedd2" stroke-width="6"/>
<line x1="613.83" y1="299.21" x2="612.84" y2="299.71" stroke="#ecedd2" stroke-width="6"/>
<line x1="612.84" y1="299.71" x2="611.82" y2="300.19" stroke="#ecedd2" stroke-width="6"/>
<line x1="611.82" y1="300.19" x2="610.76" y2="300.67" stroke="#ecedd2" stroke-width="6"/>
<line x1="610.76" y1="300.67" x2="609.71" y2="301.15" stroke="#ecedd2" stroke-width="6"/>
<line x1="609.71" y1="301.15" x2="608.66" y2="301.62" stroke="#ecedd2" stroke-width="6"/>
<line x1="608.66" y1="301.62" x2="607.65" y2="302.1" stroke="#ecedd2" stroke-width="6"/>
<line x1="607.65" y1="302.1" x2="606.65" y2="302.57" stroke="#ecedd2" stroke-width="6"/>
<line x1="606.65" y1="302.57" x2="605.63" y2="303.01" stroke="#ecedd1" stroke-width="6"/>
<line x1="605.63" y1="303.01" x2="604.59" y2="303.44" stroke="#ecedd1" stroke-width="6"/>
<line x1="604.59" y1="303.44" x2="603.54" y2="303.86" stroke="#ecedd0" stroke-width="6"/>
<line x1="603.54" y1="303.86" x2="602.48" y2="304.27" stroke="#ecedd0" stroke-width="6"/>
<line x1="602.48" y1="304.27" x2="601.41" y2="304.7" stroke="#ebeecf" stroke-width="6"/>
<line x1="601.41" y1="304.7" x2="600.34" y2="305.14" stroke="#ebeecf" stroke-width="6"/>
<line x1="600.34" y1="305.14" x2="599.27" y2="305.59" stroke="#ebeece" stroke-width="6"/>
<line x1="599.27" y1="305.59" x2="598.21" y2="306.08" stroke="#ebeece" stroke-width="6"/>
<line x1="598.21" y1="306.08" x2="597.15" y2="306.6" stroke="#ebeecd" stroke-width="6"/>
<line x1="597.15" y1="306.6" x2="596.1" y2="307.15" stroke="#ebeecc" stroke-width="6"/>
<line x1="596.1" y1="307.15" x2="595.04" y2="307.73" stroke="#eaeecb" stroke-width="6"/>
<line x1="595.04" y1="307.73" x2="593.98" y2="308.32" stroke="#eaeeca" stroke-width="6"/>
<line x1="593.98" y1="308.32" x2="592.92" y2="308.93" stroke="#e9eec8" stroke-width="6"/>
<line x1="592.92" y1="308.93" x2="591.86" y2="309.56" stroke="#e9eec7" stroke-width="6"/>
<line x1="591.86" y1="309.56" x2="590.8" y2="310.21" stroke="#e8eec6" stroke-width="6"/>
<line x1="590.8" y1="310.21" x2="589.74" y2="310.87" stroke="#e8eec5" stroke-width="6"/>
<line x1="589.74" y1="310.87" x2="588.69" y2="311.53" stroke="#e7eec3" stroke-width="6"/>
<line x1="588.69" y1="311.53" x2="587.63" y2="312.21" stroke="#e7eec2" stroke-width="6"/>
<line x1="587.63" y1="312.21" x2="586.58" y2="312.9" stroke="#e6eec1" stroke-width="6"/>
<line x1="586.58" y1="312.9" x2="585.52" y2="313.6" stroke="#e6eebf" stroke-width="6"/>
<line x1="585.52" y1="313.6" x2="584.47" y2="314.32" stroke="#e4eebd" stroke-width="6"/>
<line x1="584.47" y1="314.32" x2="583.42" y2="315.06" stroke="#e4edba" stroke-width="6"/>
<line x1="583.42" y1="315.06" x2="582.37" y2="315.82" stroke="#e2edb8" stroke-width="6"/>
<line x1="582.37" y1="315.82" x2="581.33" y2="316.58" stroke="#e2edb6" stroke-width="6"/>
<line x1="581.33" y1="316.58" x2="580.28" y2="317.35" stroke="#e0ecb4" stroke-width="6"/>
<line x1="580.28" y1="317.35" x2="579.23" y2="318.12" stroke="#e0ecb2" stroke-width="6"/>
<line x1="579.23" y1="318.12" x2="578.18" y2="318.89" stroke="#deecb0" stroke-width="6"/>
<line x1="578.18" y1="318.89" x2="577.13" y2="319.65" stroke="#deebad" stroke-width="6"/>
<line x1="577.13" y1="319.65" x2="576.08" y2="320.4" stroke="#dcebab" stroke-width="6"/>
<line x1="576.08" y1="320.4" x2="575" y2="321.16" stroke="#dbeba8" stroke-width="6"/>
<line x1="575" y1="321.16" x2="573.89" y2="321.94" stroke="#daeaa5" stroke-width="6"/>
<line x1="573.89" y1="321.94" x2="572.75" y2="322.73" stroke="#d9eaa2" stroke-width="6"/>
<line x1="572.75" y1="322.73" x2="571.62" y2="323.53" stroke="#d7e99f" stroke-width="6"/>
<line x1="571.62" y1="323.53" x2="570.49" y2="324.32" stroke="#d6e89c" stroke-width="6"/>
<line x1="570.49" y1="324.32" x2="569.38" y2="325.09" stroke="#d5e898" stroke-width="6"/>
<line x1="569.38" y1="325.09" x2="568.32" y2="325.83" stroke="#d4e795" stroke-width="6"/>
<line x1="568.32" y1="325.83" x2="567.3" y2="326.54" stroke="#d2e692" stroke-width="6"/>
<line x1="567.3" y1="326.54" x2="566.36" y2="327.2" stroke="#d1e68f" stroke-width="6"/>
<line x1="566.36" y1="327.2" x2="565.5" y2="327.8" stroke="#d0e58c" stroke-width="6"/>
<line x1="565.5" y1="327.8" x2="564.75" y2="328.32" stroke="#cfe589" stroke-width="6"/>
<line x1="564.75" y1="328.32" x2="564.12" y2="328.77" stroke="#cee587" stroke-width="6"/>
<line x1="564.12" y1="328.77" x2="563.58" y2="329.16" stroke="#cde485" stroke-width="6"/>
<line x1="563.58" y1="329.16" x2="563.1" y2="329.5" stroke="#cde483" stroke-width="6"/>
<line x1="563.1" y1="329.5" x2="562.65" y2="329.82" stroke="#cce481" stroke-width="6"/>
<line x1="562.65" y1="329.82" x2="562.19" y2="330.15" stroke="#cbe37f" stroke-width="6"/>
<line x1="562.19" y1="330.15" x2="561.71" y2="330.49" stroke="#cae37d" stroke-width="6"/>
<line x1="561.71" y1="330.49" x2="561.17" y2="330.86" stroke="#cae37b" stroke-width="6"/>
<line x1="561.17" y1="330.86" x2="560.54" y2="331.29" stroke="#c9e279" stroke-width="6"/>
<line x1="560.54" y1="331.29" x2="559.8" y2="331.8" stroke="#c8e277" stroke-width="6"/>
<line x1="559.8" y1="331.8" x2="558.94" y2="332.38" stroke="#c7e274" stroke-width="6"/>
<line x1="558.94" y1="332.38" x2="558.01" y2="333.01" stroke="#c6e171" stroke-width="6"/>
<line x1="558.01" y1="333.01" x2="557.01" y2="333.68" stroke="#c5e16e" stroke-width="6"/>
<line x1="557.01" y1="333.68" x2="555.95" y2="334.38" stroke="#c4e16a" stroke-width="6"/>
<line x1="555.95" y1="334.38" x2="554.85" y2="335.11" stroke="#c3e067" stroke-width="6"/>
<line x1="554.85" y1="335.11" x2="553.74" y2="335.86" stroke="#c1e063" stroke-width="6"/>
<line x1="553.74" y1="335.86" x2="552.61" y2="336.61" stroke="#c0df60" stroke-width="6"/>
<line x1="552.61" y1="336.61" x2="551.48" y2="337.35" stroke="#bfdf5c" stroke-width="6"/>
<line x1="551.48" y1="337.35" x2="550.37" y2="338.09" stroke="#bedf59" stroke-width="6"/>
<line x1="550.37" y1="338.09" x2="549.3" y2="338.8" stroke="#bdde56" stroke-width="6"/>
<line x1="549.3" y1="338.8" x2="548.25" y2="339.5" stroke="#bbde52" stroke-width="6"/>
<line x1="548.25" y1="339.5" x2="547.19" y2="340.21" stroke="#badd50" stroke-width="6"/>
<line x1="547.19" y1="340.21" x2="546.13" y2="340.92" stroke="#b9dd4c" stroke-width="6"/>
<line x1="546.13" y1="340.92" x2="545.07" y2="341.63" stroke="#b8dc4a" stroke-width="6"/>
<line x1="545.07" y1="341.63" x2="544.01" y2="342.34" stroke="#b7dc46" stroke-width="6"/>
<line x1="544.01" y1="342.34" x2="542.95" y2="343.05" stroke="#b5db44" stroke-width="6"/>
<line x1="542.95" y1="343.05" x2="541.89" y2="343.75" stroke="#b4db40" stroke-width="6"/>
<line x1="541.89" y1="343.75" x2="540.84" y2="344.44" stroke="#b3da3e" stroke-width="6"/>
<line x1="540.84" y1="344.44" x2="539.78" y2="345.13" stroke="#b2da3a" stroke-width="6"/>
<line x1="539.78" y1="345.13" x2="538.73" y2="345.8" stroke="#b1d938" stroke-width="6"/>
<line x1="538.73" y1="345.8" x2="537.67" y2="346.46" stroke="#b0d935" stroke-width="6"/>
<line x1="537.67" y1="346.46" x2="536.62" y2="347.13" stroke="#afd934" stroke-width="6"/>
<line x1="536.62" y1="347.13" x2="535.57" y2="347.78" stroke="#aed832" stroke-width="6"/>
<line x1="535.57" y1="347.78" x2="534.52" y2="348.43" stroke="#aed830" stroke-width="6"/>
<line x1="534.52" y1="348.43" x2="533.48" y2="349.07" stroke="#add82f" stroke-width="6"/>
<line x1="533.48" y1="349.07" x2="532.43" y2="349.71" stroke="#acd72d" stroke-width="6"/>
<line x1="532.43" y1="349.71" x2="531.38" y2="350.33" stroke="#abd72c" stroke-width="6"/>
<line x1="531.38" y1="350.33" x2="530.33" y2="350.93" stroke="#abd72a" stroke-width="6"/>
<line x1="530.33" y1="350.93" x2="529.28" y2="351.53" stroke="#aad628" stroke-width="6"/>
<line x1="529.28" y1="351.53" x2="528.23" y2="352.1" stroke="#a9d627" stroke-width="6"/>
<line x1="528.23" y1="352.1" x2="527.17" y2="352.66" stroke="#a9d625" stroke-width="6"/>
<line x1="527.17" y1="352.66" x2="526.11" y2="353.21" stroke="#a8d624" stroke-width="6"/>
<line x1="526.11" y1="353.21" x2="525.06" y2="353.74" stroke="#a8d523" stroke-width="6"/>
<line x1="525.06" y1="353.74" x2="524" y2="354.27" stroke="#a7d522" stroke-width="6"/>
<line x1="524" y1="354.27" x2="522.94" y2="354.78" stroke="#a6d521" stroke-width="6"/>
<line x1="522.94" y1="354.78" x2="521.88" y2="355.27" stroke="#a6d41f" stroke-width="6"/>
<line x1="521.88" y1="355.27" x2="520.82" y2="355.75" stroke="#a5d41e" stroke-width="6"/>
<line x1="520.82" y1="355.75" x2="519.76" y2="356.22" stroke="#a4d41d" stroke-width="6"/>
<line x1="519.76" y1="356.22" x2="518.7" y2="356.67" stroke="#a4d31c" stroke-width="6"/>
<line x1="518.7" y1="356.67" x2="517.65" y2="357.1" stroke="#a3d31b" stroke-width="6"/>
<line x1="517.65" y1="357.1" x2="516.64" y2="357.51" stroke="#a3d31b" stroke-width="6"/>
<line x1="516.64" y1="357.51" x2="515.71" y2="357.9" stroke="#a4d41d" stroke-width="6"/>
<line x1="515.71" y1="357.9" x2="514.83" y2="358.26" stroke="#a5d41f" stroke-width="6"/>
<line x1="514.83" y1="358.26" x2="513.95" y2="358.61" stroke="#a6d421" stroke-width="6"/>
<line x1="513.95" y1="358.61" x2="513.06" y2="358.94" stroke="#a7d523" stroke-width="6"/>
<line x1="513.06" y1="358.94" x2="512.11" y2="359.27" stroke="#a8d525" stroke-width="6"/>
<line x1="512.11" y1="359.27" x2="511.07" y2="359.6" stroke="#a9d627" stroke-width="6"/>
<line x1="511.07" y1="359.6" x2="509.93" y2="359.92" stroke="#aad629" stroke-width="6"/>
<line x1="509.93" y1="359.92" x2="508.63" y2="360.26" stroke="#abd62b" stroke-width="6"/>
<line x1="508.63" y1="360.26" x2="507.15" y2="360.6" stroke="#acd72d" stroke-width="6"/>
<line x1="507.15" y1="360.6" x2="505.45" y2="360.97" stroke="#aed832" stroke-width="6"/>
<line x1="505.45" y1="360.97" x2="503.55" y2="361.37" stroke="#b0d93b" stroke-width="6"/>
<line x1="503.55" y1="361.37" x2="501.49" y2="361.78" stroke="#b4db44" stroke-width="6"/>
<line x1="501.49" y1="361.78" x2="499.3" y2="362.2" stroke="#b6dc4c" stroke-width="6"/>
<line x1="499.3" y1="362.2" x2="497.04" y2="362.61" stroke="#bade55" stroke-width="6"/>
<line x1="497.04" y1="362.61" x2="494.74" y2="363" stroke="#bcdf5d" stroke-width="6"/>
<line x1="494.74" y1="363" x2="492.45" y2="363.35" stroke="#c0e166" stroke-width="6"/>
<line x1="492.45" y1="363.35" x2="490.22" y2="363.66" stroke="#c2e26e" stroke-width="6"/>
<line x1="490.22" y1="363.66" x2="488.08" y2="363.92" stroke="#c6e477" stroke-width="6"/>
<line x1="488.08" y1="363.92" x2="486.08" y2="364.1" stroke="#c8e580" stroke-width="6"/>
<line x1="486.08" y1="364.1" x2="484.16" y2="364.22" stroke="#cbe687" stroke-width="6"/>
<line x1="484.16" y1="364.22" x2="482.27" y2="364.28" stroke="#cde78c" stroke-width="6"/>
<line x1="482.27" y1="364.28" x2="480.41" y2="364.29" stroke="#d0e891" stroke-width="6"/>
<line x1="480.41" y1="364.29" x2="478.58" y2="364.27" stroke="#d2e996" stroke-width="6"/>
<line x1="478.58" y1="364.27" x2="476.8" y2="364.2" stroke="#d4ea9b" stroke-width="6"/>
<line x1="476.8" y1="364.2" x2="475.06" y2="364.1" stroke="#d6eba1" stroke-width="6"/>
<line x1="475.06" y1="364.1" x2="473.38" y2="363.98" stroke="#d8eca6" stroke-width="6"/>
<line x1="473.38" y1="363.98" x2="471.77" y2="363.83" stroke="#daedab" stroke-width="6"/>
<line x1="471.77" y1="363.83" x2="470.22" y2="363.67" stroke="#ddeeb0" stroke-width="6"/>
<line x1="470.22" y1="363.67" x2="468.75" y2="363.5" stroke="#dfefb5" stroke-width="6"/>
<line x1="468.75" y1="363.5" x2="467.38" y2="363.3" stroke="#e1efba" stroke-width="6"/>
<line x1="467.38" y1="363.3" x2="466.1" y2="363.07" stroke="#e2f0bd" stroke-width="6"/>
<line x1="466.1" y1="363.07" x2="464.9" y2="362.81" stroke="#e4f1c1" stroke-width="6"/>
<line x1="464.9" y1="362.81" x2="463.78" y2="362.52" stroke="#e6f2c5" stroke-width="6"/>
<line x1="463.78" y1="362.52" x2="462.7" y2="362.21" stroke="#e7f3c8" stroke-width="6"/>
<line x1="462.7" y1="362.21" x2="461.65" y2="361.89" stroke="#e9f4cc" stroke-width="6"/>
<line x1="461.65" y1="361.89" x2="460.63" y2="361.56" stroke="#eaf5cf" stroke-width="6"/>
<line x1="460.63" y1="361.56" x2="459.6" y2="361.24" stroke="#ecf6d3" stroke-width="6"/>
<line x1="459.6" y1="361.24" x2="458.57" y2="360.91" stroke="#eef7d7" stroke-width="6"/>
<line x1="458.57" y1="360.91" x2="457.5" y2="360.6" stroke="#eff8da" stroke-width="6"/>
<line x1="457.5" y1="360.6" x2="456.42" y2="360.29" stroke="#f1f8dd" stroke-width="6"/>
<line x1="456.42" y1="360.29" x2="455.34" y2="359.98" stroke="#f2f9e0" stroke-width="6"/>
<line x1="455.34" y1="359.98" x2="454.27" y2="359.66" stroke="#f3fae3" stroke-width="6"/>
<line x1="454.27" y1="359.66" x2="453.21" y2="359.34" stroke="#f5fae6" stroke-width="6"/>
<line x1="453.21" y1="359.34" x2="452.16" y2="359.02" stroke="#f6fbe9" stroke-width="6"/>
<line x1="452.16" y1="359.02" x2="451.11" y2="358.69" stroke="#f7fbec" stroke-width="6"/>
<line x1="451.11" y1="358.69" x2="450.07" y2="358.37" stroke="#f8fcef" stroke-width="6"/>
<line x1="450.07" y1="358.37" x2="449.04" y2="358.04" stroke="#fafcf2" stroke-width="6"/>
<line x1="449.04" y1="358.04" x2="448.02" y2="357.72" stroke="#fbfdf5" stroke-width="6"/>
<line x1="448.02" y1="357.72" x2="447" y2="357.4" stroke="#fcfef8" stroke-width="6"/>
<line x1="447" y1="357.4" x2="446" y2="357.08" stroke="#fcfef8" stroke-width="6"/>
<line x1="446" y1="357.08" x2="445.01" y2="356.76" stroke="#fbfdf6" stroke-width="6"/>
<line x1="445.01" y1="356.76" x2="444.04" y2="356.45" stroke="#fafdf3" stroke-width="6"/>
<line x1="444.04" y1="356.45" x2="443.07" y2="356.13" stroke="#f9fcf1" stroke-width="6"/>
<line x1="443.07" y1="356.13" x2="442.11" y2="355.81" stroke="#f8fcef" stroke-width="6"/>
<line x1="442.11" y1="355.81" x2="441.15" y2="355.49" stroke="#f7fbec" stroke-width="6"/>
<line x1="441.15" y1="355.49" x2="440.19" y2="355.17" stroke="#f6fbea" stroke-width="6"/>
<line x1="440.19" y1="355.17" x2="439.22" y2="354.85" stroke="#f5fae8" stroke-width="6"/>
<line x1="439.22" y1="354.85" x2="438.24" y2="354.53" stroke="#f4fae5" stroke-width="6"/>
<line x1="438.24" y1="354.53" x2="437.25" y2="354.2" stroke="#f3f9e3" stroke-width="6"/>
<line x1="437.25" y1="354.2" x2="436.29" y2="353.88" stroke="#f1f9e1" stroke-width="6"/>
<line x1="436.29" y1="353.88" x2="435.4" y2="353.59" stroke="#f0f8de" stroke-width="6"/>
<line x1="435.4" y1="353.59" x2="434.55" y2="353.31" stroke="#eff8dc" stroke-width="6"/>
<line x1="434.55" y1="353.31" x2="433.7" y2="353.03" stroke="#eef7d9" stroke-width="6"/>
<line x1="433.7" y1="353.03" x2="432.82" y2="352.74" stroke="#edf6d6" stroke-width="6"/>
<line x1="432.82" y1="352.74" x2="431.89" y2="352.43" stroke="#ebf6d4" stroke-width="6"/>
<line x1="431.89" y1="352.43" x2="430.87" y2="352.09" stroke="#eaf5d1" stroke-width="6"/>
<line x1="430.87" y1="352.09" x2="429.73" y2="351.71" stroke="#e9f4ce" stroke-width="6"/>
<line x1="429.73" y1="351.71" x2="428.44" y2="351.29" stroke="#e8f4cc" stroke-width="6"/>
<line x1="428.44" y1="351.29" x2="426.97" y2="350.8" stroke="#e7f3c9" stroke-width="6"/>
<line x1="426.97" y1="350.8" x2="425.3" y2="350.24" stroke="#e5f2c5" stroke-width="6.01"/>
<line x1="425.3" y1="350.24" x2="423.45" y2="349.62" stroke="#e3f1bf" stroke-width="6.03"/>
<line x1="423.45" y1="349.62" x2="421.45" y2="348.94" stroke="#e0f0b9" stroke-width="6.05"/>
<line x1="421.45" y1="348.94" x2="419.32" y2="348.23" stroke="#deefb3" stroke-width="6.07"/>
<line x1="419.32" y1="348.23" x2="417.11" y2="347.48" stroke="#dceead" stroke-width="6.09"/>
<line x1="417.11" y1="347.48" x2="414.85" y2="346.72" stroke="#d9eda7" stroke-width="6.11"/>
<line x1="414.85" y1="346.72" x2="412.56" y2="345.96" stroke="#d7eca1" stroke-width="6.13"/>
<line x1="412.56" y1="345.96" x2="410.29" y2="345.21" stroke="#d5eb9b" stroke-width="6.15"/>
<line x1="410.29" y1="345.21" x2="408.06" y2="344.49" stroke="#d2ea95" stroke-width="6.17"/>
<line x1="408.06" y1="344.49" x2="405.9" y2="343.8" stroke="#d0e98f" stroke-width="6.19"/>
<line x1="405.9" y1="343.8" x2="403.74" y2="343.13" stroke="#cee788" stroke-width="6.2"/>
<line x1="403.74" y1="343.13" x2="401.51" y2="342.45" stroke="#cbe680" stroke-width="6.2"/>
<line x1="401.51" y1="342.45" x2="399.23" y2="341.76" stroke="#c8e478" stroke-width="6.2"/>
<line x1="399.23" y1="341.76" x2="396.94" y2="341.09" stroke="#c5e370" stroke-width="6.2"/>
<line x1="396.94" y1="341.09" x2="394.67" y2="340.42" stroke="#c2e268" stroke-width="6.2"/>
<line x1="394.67" y1="340.42" x2="392.46" y2="339.77" stroke="#bfe060" stroke-width="6.2"/>
<line x1="392.46" y1="339.77" x2="390.34" y2="339.15" stroke="#bcdf58" stroke-width="6.2"/>
<line x1="390.34" y1="339.15" x2="388.33" y2="338.56" stroke="#b9de50" stroke-width="6.2"/>
<line x1="388.33" y1="338.56" x2="386.49" y2="338.01" stroke="#b6dc48" stroke-width="6.2"/>
<line x1="386.49" y1="338.01" x2="384.83" y2="337.5" stroke="#b3db40" stroke-width="6.2"/>
<line x1="384.83" y1="337.5" x2="383.33" y2="337.03" stroke="#b1da3a" stroke-width="6.2"/>
<line x1="383.33" y1="337.03" x2="381.95" y2="336.6" stroke="#b0d937" stroke-width="6.2"/>
<line x1="381.95" y1="336.6" x2="380.68" y2="336.19" stroke="#aed833" stroke-width="6.2"/>
<line x1="380.68" y1="336.19" x2="379.53" y2="335.81" stroke="#acd82f" stroke-width="6.2"/>
<line x1="379.53" y1="335.81" x2="378.48" y2="335.46" stroke="#abd72c" stroke-width="6.2"/>
<line x1="378.48" y1="335.46" x2="377.54" y2="335.14" stroke="#a9d628" stroke-width="6.2"/>
<line x1="377.54" y1="335.14" x2="376.7" y2="334.85" stroke="#a8d525" stroke-width="6.2"/>
<line x1="376.7" y1="334.85" x2="375.97" y2="334.6" stroke="#a6d521" stroke-width="6.2"/>
<line x1="375.97" y1="334.6" x2="375.32" y2="334.38" stroke="#a4d41d" stroke-width="6.2"/>
<line x1="375.32" y1="334.38" x2="374.78" y2="334.2" stroke="#a3d31a" stroke-width="6.2"/>
<line x1="374.78" y1="334.2" x2="374.94" y2="334.39" stroke="#a3d218" stroke-width="6.21"/>
<line x1="374.94" y1="334.39" x2="375.16" y2="334.63" stroke="#a4cf17" stroke-width="6.21"/>
<line x1="375.16" y1="334.63" x2="375.42" y2="334.92" stroke="#a6cc17" stroke-width="6.22"/>
<line x1="375.42" y1="334.92" x2="375.7" y2="335.24" stroke="#a7ca17" stroke-width="6.24"/>
<line x1="375.7" y1="335.24" x2="376.01" y2="335.59" stroke="#a8c716" stroke-width="6.25"/>
<line x1="376.01" y1="335.59" x2="376.34" y2="335.96" stroke="#aac416" stroke-width="6.25"/>
<line x1="376.34" y1="335.96" x2="376.67" y2="336.34" stroke="#abc115" stroke-width="6.26"/>
<line x1="376.67" y1="336.34" x2="377" y2="336.73" stroke="#acbf15" stroke-width="6.28"/>
<line x1="377" y1="336.73" x2="377.32" y2="337.12" stroke="#aebc15" stroke-width="6.29"/>
<line x1="377.32" y1="337.12" x2="377.62" y2="337.5" stroke="#afb914" stroke-width="6.29"/>
<line x1="377.62" y1="337.5" x2="377.92" y2="337.88" stroke="#b1b514" stroke-width="6.3"/>
<line x1="377.92" y1="337.88" x2="378.21" y2="338.28" stroke="#b4b013" stroke-width="6.31"/>
<line x1="378.21" y1="338.28" x2="378.5" y2="338.69" stroke="#b7ab13" stroke-width="6.33"/>
<line x1="378.5" y1="338.69" x2="378.8" y2="339.11" stroke="#baa613" stroke-width="6.33"/>
<line x1="378.8" y1="339.11" x2="379.09" y2="339.54" stroke="#bda112" stroke-width="6.34"/>
<line x1="379.09" y1="339.54" x2="379.39" y2="339.97" stroke="#bf9b12" stroke-width="6.36"/>
<line x1="379.39" y1="339.97" x2="379.69" y2="340.4" stroke="#c29611" stroke-width="6.37"/>
<line x1="379.69" y1="340.4" x2="380" y2="340.84" stroke="#c59111" stroke-width="6.38"/>
<line x1="380" y1="340.84" x2="380.31" y2="341.27" stroke="#c88c11" stroke-width="6.39"/>
<line x1="380.31" y1="341.27" x2="380.62" y2="341.7" stroke="#cb8710" stroke-width="6.4"/>
<line x1="380.62" y1="341.7" x2="380.94" y2="342.12" stroke="#cd8210" stroke-width="6.41"/>
<line x1="380.94" y1="342.12" x2="381.27" y2="342.53" stroke="#cf7f0e" stroke-width="6.42"/>
<line x1="381.27" y1="342.53" x2="381.59" y2="342.94" stroke="#d17b0e" stroke-width="6.43"/>
<line x1="381.59" y1="342.94" x2="381.92" y2="343.36" stroke="#d3770c" stroke-width="6.44"/>
<line x1="381.92" y1="343.36" x2="382.25" y2="343.77" stroke="#d5740c" stroke-width="6.45"/>
<line x1="382.25" y1="343.77" x2="382.59" y2="344.19" stroke="#d7700a" stroke-width="6.46"/>
<line x1="382.59" y1="344.19" x2="382.93" y2="344.62" stroke="#d96d0a" stroke-width="6.46"/>
<line x1="382.93" y1="344.62" x2="383.28" y2="345.06" stroke="#db6908" stroke-width="6.47"/>
<line x1="383.28" y1="345.06" x2="383.64" y2="345.52" stroke="#dd6508" stroke-width="6.49"/>
<line x1="383.64" y1="345.52" x2="384" y2="346" stroke="#df6206" stroke-width="6.5"/>
<line x1="384" y1="346" x2="384.38" y2="346.47" stroke="#e06006" stroke-width="6.5"/>
<line x1="384.38" y1="346.47" x2="384.77" y2="346.91" stroke="#e15e05" stroke-width="6.5"/>
<line x1="384.77" y1="346.91" x2="385.17" y2="347.34" stroke="#e25e04" stroke-width="6.5"/>
<line x1="385.17" y1="347.34" x2="385.58" y2="347.77" stroke="#e25c04" stroke-width="6.5"/>
<line x1="385.58" y1="347.77" x2="385.99" y2="348.23" stroke="#e35c03" stroke-width="6.5"/>
<line x1="385.99" y1="348.23" x2="386.4" y2="348.72" stroke="#e35a03" stroke-width="6.5"/>
<line x1="386.4" y1="348.72" x2="386.81" y2="349.28" stroke="#e45a02" stroke-width="6.5"/>
<line x1="386.81" y1="349.28" x2="387.21" y2="349.92" stroke="#e45802" stroke-width="6.5"/>
<line x1="387.21" y1="349.92" x2="387.6" y2="350.65" stroke="#e55801" stroke-width="6.5"/>
<line x1="387.6" y1="350.65" x2="387.97" y2="351.5" stroke="#e65600" stroke-width="6.5"/>
<line x1="387.97" y1="351.5" x2="388.35" y2="352.49" stroke="#e65600" stroke-width="6.5"/>
<line x1="388.35" y1="352.49" x2="388.73" y2="353.63" stroke="#e65600" stroke-width="6.5"/>
<line x1="388.73" y1="353.63" x2="389.12" y2="354.87" stroke="#e65600" stroke-width="6.5"/>
<line x1="389.12" y1="354.87" x2="389.5" y2="356.2" stroke="#e65600" stroke-width="6.5"/>
<line x1="389.5" y1="356.2" x2="389.87" y2="357.58" stroke="#e65600" stroke-width="6.5"/>
<line x1="389.87" y1="357.58" x2="390.23" y2="358.98" stroke="#e65600" stroke-width="6.5"/>
<line x1="390.23" y1="358.98" x2="390.56" y2="360.38" stroke="#e65600" stroke-width="6.5"/>
<line x1="390.56" y1="360.38" x2="390.86" y2="361.73" stroke="#e65600" stroke-width="6.5"/>
<line x1="390.86" y1="361.73" x2="391.13" y2="363.02" stroke="#e65600" stroke-width="6.5"/>
<line x1="391.13" y1="363.02" x2="391.35" y2="364.2" stroke="#e65600" stroke-width="6.5"/>
<line x1="391.35" y1="364.2" x2="391.53" y2="365.29" stroke="#e65600" stroke-width="6.5"/>
<line x1="391.53" y1="365.29" x2="391.67" y2="366.32" stroke="#e65600" stroke-width="6.5"/>
<line x1="391.67" y1="366.32" x2="391.79" y2="367.31" stroke="#e65600" stroke-width="6.5"/>
<line x1="391.79" y1="367.31" x2="391.87" y2="368.26" stroke="#e65600" stroke-width="6.5"/>
<line x1="391.87" y1="368.26" x2="391.93" y2="369.19" stroke="#e65600" stroke-width="6.5"/>
<line x1="391.93" y1="369.19" x2="391.96" y2="370.12" stroke="#e65600" stroke-width="6.5"/>
<line x1="391.96" y1="370.12" x2="391.98" y2="371.05" stroke="#e65600" stroke-width="6.5"/>
<line x1="391.98" y1="371.05" x2="391.98" y2="372" stroke="#e65600" stroke-width="6.5"/>
<line x1="391.98" y1="372" x2="391.97" y2="372.98" stroke="#e65600" stroke-width="6.5"/>
<line x1="391.97" y1="372.98" x2="391.95" y2="374" stroke="#e65600" stroke-width="6.5"/>
<line x1="391.95" y1="374" x2="391.92" y2="375.05" stroke="#e65600" stroke-width="6.5"/>
<line x1="391.92" y1="375.05" x2="391.87" y2="376.11" stroke="#e65600" stroke-width="6.5"/>
<line x1="391.87" y1="376.11" x2="391.8" y2="377.18" stroke="#e65600" stroke-width="6.5"/>
<line x1="391.8" y1="377.18" x2="391.71" y2="378.25" stroke="#e65600" stroke-width="6.5"/>
<line x1="391.71" y1="378.25" x2="391.61" y2="379.35" stroke="#e65600" stroke-width="6.5"/>
<line x1="391.61" y1="379.35" x2="391.5" y2="380.47" stroke="#e65600" stroke-width="6.5"/>
<line x1="391.5" y1="380.47" x2="391.37" y2="381.6" stroke="#e65600" stroke-width="6.5"/>
<line x1="391.37" y1="381.6" x2="391.22" y2="382.77" stroke="#e65600" stroke-width="6.5"/>
<line x1="391.22" y1="382.77" x2="391.07" y2="383.97" stroke="#e65600" stroke-width="6.5"/>
<line x1="391.07" y1="383.97" x2="390.9" y2="385.2" stroke="#e65600" stroke-width="6.5"/>
<line x1="390.9" y1="385.2" x2="390.72" y2="386.47" stroke="#e65600" stroke-width="6.5"/>
<line x1="390.72" y1="386.47" x2="390.53" y2="387.79" stroke="#e65700" stroke-width="6.5"/>
<line x1="390.53" y1="387.79" x2="390.32" y2="389.14" stroke="#e65700" stroke-width="6.5"/>
<line x1="390.32" y1="389.14" x2="390.1" y2="390.52" stroke="#e55701" stroke-width="6.5"/>
<line x1="390.1" y1="390.52" x2="389.87" y2="391.92" stroke="#e55801" stroke-width="6.5"/>
<line x1="389.87" y1="391.92" x2="389.62" y2="393.33" stroke="#e55801" stroke-width="6.5"/>
<line x1="389.62" y1="393.33" x2="389.36" y2="394.76" stroke="#e55901" stroke-width="6.5"/>
<line x1="389.36" y1="394.76" x2="389.09" y2="396.18" stroke="#e45902" stroke-width="6.5"/>
<line x1="389.09" y1="396.18" x2="388.8" y2="397.6" stroke="#e45902" stroke-width="6.5"/>
<line x1="388.8" y1="397.6" x2="388.5" y2="399" stroke="#e45a02" stroke-width="6.5"/>
<line x1="388.5" y1="399" x2="388.19" y2="400.4" stroke="#e45b02" stroke-width="6.5"/>
<line x1="388.19" y1="400.4" x2="387.86" y2="401.8" stroke="#e35d03" stroke-width="6.5"/>
<line x1="387.86" y1="401.8" x2="387.52" y2="403.21" stroke="#e25e04" stroke-width="6.5"/>
<line x1="387.52" y1="403.21" x2="387.17" y2="404.62" stroke="#e16004" stroke-width="6.5"/>
<line x1="387.17" y1="404.62" x2="386.8" y2="406.04" stroke="#e06205" stroke-width="6.5"/>
<line x1="386.8" y1="406.04" x2="386.42" y2="407.45" stroke="#e06405" stroke-width="6.5"/>
<line x1="386.42" y1="407.45" x2="386.03" y2="408.87" stroke="#df6606" stroke-width="6.5"/>
<line x1="386.03" y1="408.87" x2="385.62" y2="410.28" stroke="#de6806" stroke-width="6.5"/>
<line x1="385.62" y1="410.28" x2="385.19" y2="411.69" stroke="#dd6907" stroke-width="6.5"/>
<line x1="385.19" y1="411.69" x2="384.75" y2="413.1" stroke="#dc6b08" stroke-width="6.5"/>
<line x1="384.75" y1="413.1" x2="384.29" y2="414.5" stroke="#db6e08" stroke-width="6.5"/>
<line x1="384.29" y1="414.5" x2="383.81" y2="415.9" stroke="#da7109" stroke-width="6.5"/>
<line x1="383.81" y1="415.9" x2="383.32" y2="417.3" stroke="#d8740a" stroke-width="6.5"/>
<line x1="383.32" y1="417.3" x2="382.81" y2="418.7" stroke="#d6780b" stroke-width="6.5"/>
<line x1="382.81" y1="418.7" x2="382.28" y2="420.1" stroke="#d57b0c" stroke-width="6.5"/>
<line x1="382.28" y1="420.1" x2="381.75" y2="421.5" stroke="#d37f0c" stroke-width="6.5"/>
<line x1="381.75" y1="421.5" x2="381.2" y2="422.9" stroke="#d2820d" stroke-width="6.5"/>
<line x1="381.2" y1="422.9" x2="380.64" y2="424.3" stroke="#d0860e" stroke-width="6.5"/>
<line x1="380.64" y1="424.3" x2="380.07" y2="425.7" stroke="#ce890f" stroke-width="6.5"/>
<line x1="380.07" y1="425.7" x2="379.5" y2="427.1" stroke="#cd8c10" stroke-width="6.5"/>
<line x1="379.5" y1="427.1" x2="378.91" y2="428.51" stroke="#cb9010" stroke-width="6.5"/>
<line x1="378.91" y1="428.51" x2="378.32" y2="429.92" stroke="#c99311" stroke-width="6.49"/>
<line x1="378.32" y1="429.92" x2="377.7" y2="431.33" stroke="#c79612" stroke-width="6.47"/>
<line x1="377.7" y1="431.33" x2="377.08" y2="432.74" stroke="#c59912" stroke-width="6.46"/>
<line x1="377.08" y1="432.74" x2="376.45" y2="434.15" stroke="#c39c13" stroke-width="6.46"/>
<line x1="376.45" y1="434.15" x2="375.81" y2="435.56" stroke="#c1a013" stroke-width="6.45"/>
<line x1="375.81" y1="435.56" x2="375.16" y2="436.97" stroke="#bfa314" stroke-width="6.44"/>
<line x1="375.16" y1="436.97" x2="374.51" y2="438.38" stroke="#bda614" stroke-width="6.43"/>
<line x1="374.51" y1="438.38" x2="373.86" y2="439.79" stroke="#bba915" stroke-width="6.42"/>
<line x1="373.86" y1="439.79" x2="373.2" y2="441.2" stroke="#b9ac16" stroke-width="6.41"/>
<line x1="373.2" y1="441.2" x2="372.53" y2="442.62" stroke="#b7b016" stroke-width="6.4"/>
<line x1="372.53" y1="442.62" x2="371.84" y2="444.07" stroke="#b5b217" stroke-width="6.39"/>
<line x1="371.84" y1="444.07" x2="371.14" y2="445.54" stroke="#b4b618" stroke-width="6.38"/>
<line x1="371.14" y1="445.54" x2="370.44" y2="447.01" stroke="#b2b818" stroke-width="6.37"/>
<line x1="370.44" y1="447.01" x2="369.73" y2="448.47" stroke="#b0bc19" stroke-width="6.36"/>
<line x1="369.73" y1="448.47" x2="369.02" y2="449.91" stroke="#aebe19" stroke-width="6.34"/>
<line x1="369.02" y1="449.91" x2="368.33" y2="451.31" stroke="#acc21a" stroke-width="6.33"/>
<line x1="368.33" y1="451.31" x2="367.65" y2="452.67" stroke="#aac41a" stroke-width="6.33"/>
<line x1="367.65" y1="452.67" x2="367" y2="453.97" stroke="#a9c81b" stroke-width="6.31"/>
<line x1="367" y1="453.97" x2="366.38" y2="455.2" stroke="#a7ca1c" stroke-width="6.3"/>
<line x1="366.38" y1="455.2" x2="365.81" y2="456.34" stroke="#a6cc1c" stroke-width="6.3"/>
<line x1="365.81" y1="456.34" x2="365.31" y2="457.39" stroke="#a5cd1c" stroke-width="6.3"/>
<line x1="365.31" y1="457.39" x2="364.85" y2="458.38" stroke="#a5ce1c" stroke-width="6.3"/>
<line x1="364.85" y1="458.38" x2="364.42" y2="459.32" stroke="#a5cf1c" stroke-width="6.3"/>
<line x1="364.42" y1="459.32" x2="363.99" y2="460.22" stroke="#a4d01c" stroke-width="6.3"/>
<line x1="363.99" y1="460.22" x2="363.53" y2="461.12" stroke="#a4d01c" stroke-width="6.3"/>
<line x1="363.53" y1="461.12" x2="363.04" y2="462.03" stroke="#a3d11c" stroke-width="6.3"/>
<line x1="363.04" y1="462.03" x2="362.47" y2="462.97" stroke="#a3d21c" stroke-width="6.3"/>
<line x1="362.47" y1="462.97" x2="361.82" y2="463.95" stroke="#a3d31c" stroke-width="6.3"/>
<line x1="361.82" y1="463.95" x2="361.05" y2="465" stroke="#a2d41c" stroke-width="6.3"/>
<line x1="361.05" y1="465" x2="360.17" y2="466.13" stroke="#a2d41c" stroke-width="6.3"/>
<line x1="360.17" y1="466.13" x2="359.2" y2="467.31" stroke="#a2d41b" stroke-width="6.3"/>
<line x1="359.2" y1="467.31" x2="358.14" y2="468.55" stroke="#a2d41b" stroke-width="6.3"/>
<line x1="358.14" y1="468.55" x2="357.03" y2="469.8" stroke="#a2d41b" stroke-width="6.3"/>
<line x1="357.03" y1="469.8" x2="355.86" y2="471.07" stroke="#a2d41a" stroke-width="6.3"/>
<line x1="355.86" y1="471.07" x2="354.66" y2="472.34" stroke="#a2d31a" stroke-width="6.3"/>
<line x1="354.66" y1="472.34" x2="353.44" y2="473.58" stroke="#a2d319" stroke-width="6.3"/>
<line x1="353.44" y1="473.58" x2="352.21" y2="474.78" stroke="#a2d319" stroke-width="6.3"/>
<line x1="352.21" y1="474.78" x2="350.99" y2="475.93" stroke="#a2d319" stroke-width="6.3"/>
<line x1="350.99" y1="475.93" x2="349.8" y2="477" stroke="#a2d318" stroke-width="6.3"/>
<line x1="349.8" y1="477" x2="348.6" y2="478.01" stroke="#a2d318" stroke-width="6.3"/>
<line x1="348.6" y1="478.01" x2="347.37" y2="479" stroke="#a2d318" stroke-width="6.3"/>
<line x1="347.37" y1="479" x2="346.12" y2="479.94" stroke="#a2d318" stroke-width="6.3"/>
<line x1="346.12" y1="479.94" x2="344.85" y2="480.86" stroke="#a2d318" stroke-width="6.3"/>
<line x1="344.85" y1="480.86" x2="343.58" y2="481.74" stroke="#a2d318" stroke-width="6.3"/>
<line x1="343.58" y1="481.74" x2="342.32" y2="482.58" stroke="#a2d318" stroke-width="6.3"/>
<line x1="342.32" y1="482.58" x2="341.07" y2="483.39" stroke="#a2d318" stroke-width="6.3"/>
<line x1="341.07" y1="483.39" x2="339.84" y2="484.16" stroke="#a2d318" stroke-width="6.3"/>
<line x1="339.84" y1="484.16" x2="338.65" y2="484.9" stroke="#a2d318" stroke-width="6.3"/>
<line x1="338.65" y1="484.9" x2="337.5" y2="485.6" stroke="#a2d318" stroke-width="6.3"/>
<line x1="337.5" y1="485.6" x2="336.42" y2="486.26" stroke="#a2d318" stroke-width="6.3"/>
<line x1="336.42" y1="486.26" x2="335.42" y2="486.88" stroke="#a2d318" stroke-width="6.3"/>
<line x1="335.42" y1="486.88" x2="334.46" y2="487.46" stroke="#a2d318" stroke-width="6.3"/>
<line x1="334.46" y1="487.46" x2="333.54" y2="488" stroke="#a2d318" stroke-width="6.3"/>
<line x1="333.54" y1="488" x2="332.62" y2="488.51" stroke="#a2d318" stroke-width="6.3"/>
<line x1="332.62" y1="488.51" x2="331.68" y2="488.98" stroke="#a2d318" stroke-width="6.3"/>
<line x1="331.68" y1="488.98" x2="330.71" y2="489.43" stroke="#a2d318" stroke-width="6.3"/>
<line x1="330.71" y1="489.43" x2="329.67" y2="489.84" stroke="#a2d318" stroke-width="6.3"/>
<line x1="329.67" y1="489.84" x2="328.54" y2="490.23" stroke="#a2d318" stroke-width="6.3"/>
<line x1="328.54" y1="490.23" x2="327.3" y2="490.6" stroke="#a2d318" stroke-width="6.3"/>
<line x1="327.3" y1="490.6" x2="325.94" y2="490.95" stroke="#a2d318" stroke-width="6.3"/>
<line x1="325.94" y1="490.95" x2="324.49" y2="491.28" stroke="#a2d319" stroke-width="6.3"/>
<line x1="324.49" y1="491.28" x2="322.96" y2="491.6" stroke="#a2d31a" stroke-width="6.3"/>
<line x1="322.96" y1="491.6" x2="321.37" y2="491.88" stroke="#a3d31a" stroke-width="6.3"/>
<line x1="321.37" y1="491.88" x2="319.73" y2="492.14" stroke="#a3d31b" stroke-width="6.3"/>
<line x1="319.73" y1="492.14" x2="318.07" y2="492.35" stroke="#a3d41b" stroke-width="6.3"/>
<line x1="318.07" y1="492.35" x2="316.39" y2="492.52" stroke="#a3d41c" stroke-width="6.3"/>
<line x1="316.39" y1="492.52" x2="314.73" y2="492.64" stroke="#a4d41c" stroke-width="6.3"/>
<line x1="314.73" y1="492.64" x2="313.08" y2="492.7" stroke="#a4d41d" stroke-width="6.3"/>
<line x1="313.08" y1="492.7" x2="311.48" y2="492.7" stroke="#a4d41e" stroke-width="6.3"/>
<line x1="311.48" y1="492.7" x2="309.92" y2="492.63" stroke="#a5d420" stroke-width="6.3"/>
<line x1="309.92" y1="492.63" x2="308.41" y2="492.5" stroke="#a6d522" stroke-width="6.3"/>
<line x1="308.41" y1="492.5" x2="306.91" y2="492.31" stroke="#a7d626" stroke-width="6.3"/>
<line x1="306.91" y1="492.31" x2="305.43" y2="492.07" stroke="#a8d628" stroke-width="6.3"/>
<line x1="305.43" y1="492.07" x2="303.93" y2="491.79" stroke="#a9d72c" stroke-width="6.3"/>
<line x1="303.93" y1="491.79" x2="302.4" y2="491.46" stroke="#abd72e" stroke-width="6.3"/>
<line x1="302.4" y1="491.46" x2="300.84" y2="491.11" stroke="#acd832" stroke-width="6.3"/>
<line x1="300.84" y1="491.11" x2="299.21" y2="490.72" stroke="#add834" stroke-width="6.3"/>
<line x1="299.21" y1="490.72" x2="297.52" y2="490.32" stroke="#aed938" stroke-width="6.3"/>
<line x1="297.52" y1="490.32" x2="295.73" y2="489.9" stroke="#afda3a" stroke-width="6.3"/>
<line x1="295.73" y1="489.9" x2="293.83" y2="489.45" stroke="#b1db40" stroke-width="6.29"/>
<line x1="293.83" y1="489.45" x2="291.85" y2="488.94" stroke="#b4dc47" stroke-width="6.29"/>
<line x1="291.85" y1="488.94" x2="289.79" y2="488.4" stroke="#b7dd4f" stroke-width="6.28"/>
<line x1="289.79" y1="488.4" x2="287.68" y2="487.82" stroke="#bade57" stroke-width="6.26"/>
<line x1="287.68" y1="487.82" x2="285.52" y2="487.22" stroke="#bddf5e" stroke-width="6.25"/>
<line x1="285.52" y1="487.22" x2="283.34" y2="486.61" stroke="#bfe166" stroke-width="6.25"/>
<line x1="283.34" y1="486.61" x2="281.14" y2="485.99" stroke="#c2e26d" stroke-width="6.24"/>
<line x1="281.14" y1="485.99" x2="278.95" y2="485.38" stroke="#c5e375" stroke-width="6.22"/>
<line x1="278.95" y1="485.38" x2="276.78" y2="484.78" stroke="#c8e47d" stroke-width="6.21"/>
<line x1="276.78" y1="484.78" x2="274.65" y2="484.2" stroke="#cbe584" stroke-width="6.21"/>
<line x1="274.65" y1="484.2" x2="272.49" y2="483.62" stroke="#cde78b" stroke-width="6.19"/>
<line x1="272.49" y1="483.62" x2="270.23" y2="483.02" stroke="#d0e892" stroke-width="6.17"/>
<line x1="270.23" y1="483.02" x2="267.93" y2="482.41" stroke="#d3ea99" stroke-width="6.15"/>
<line x1="267.93" y1="482.41" x2="265.61" y2="481.79" stroke="#d6eba0" stroke-width="6.13"/>
<line x1="265.61" y1="481.79" x2="263.32" y2="481.18" stroke="#d9eca7" stroke-width="6.11"/>
<line x1="263.32" y1="481.18" x2="261.09" y2="480.59" stroke="#dbeead" stroke-width="6.09"/>
<line x1="261.09" y1="480.59" x2="258.96" y2="480.03" stroke="#deefb4" stroke-width="6.07"/>
<line x1="258.96" y1="480.03" x2="256.97" y2="479.5" stroke="#e1f0bb" stroke-width="6.05"/>
<line x1="256.97" y1="479.5" x2="255.17" y2="479.02" stroke="#e4f2c2" stroke-width="6.03"/>
<line x1="255.17" y1="479.02" x2="253.58" y2="478.6" stroke="#e7f3c9" stroke-width="6.01"/>
<line x1="253.58" y1="478.6" x2="252.21" y2="478.24" stroke="#e9f4ce" stroke-width="5.99"/>
<line x1="252.21" y1="478.24" x2="251.03" y2="477.92" stroke="#eaf5d1" stroke-width="5.97"/>
<line x1="251.03" y1="477.92" x2="250.02" y2="477.65" stroke="#ecf6d5" stroke-width="5.95"/>
<line x1="250.02" y1="477.65" x2="249.14" y2="477.42" stroke="#eef7d9" stroke-width="5.93"/>
<line x1="249.14" y1="477.42" x2="248.38" y2="477.21" stroke="#eff8dc" stroke-width="5.91"/>
<line x1="248.38" y1="477.21" x2="247.69" y2="477.03" stroke="#f1f8e0" stroke-width="5.89"/>
<line x1="247.69" y1="477.03" x2="247.06" y2="476.86" stroke="#f2f9e3" stroke-width="5.87"/>
<line x1="247.06" y1="476.86" x2="246.47" y2="476.71" stroke="#f4fae7" stroke-width="5.85"/>
<line x1="246.47" y1="476.71" x2="245.87" y2="476.56" stroke="#f6fbeb" stroke-width="5.83"/>
<line x1="245.87" y1="476.56" x2="245.25" y2="476.4" stroke="#f7fcee" stroke-width="5.81"/>
<line x1="245.25" y1="476.4" x2="244.62" y2="476.25" stroke="#f8fcf1" stroke-width="5.79"/>
<line x1="244.62" y1="476.25" x2="244.03" y2="476.11" stroke="#f9fcf2" stroke-width="5.77"/>
<line x1="244.03" y1="476.11" x2="243.48" y2="475.98" stroke="#fafdf4" stroke-width="5.75"/>
<line x1="243.48" y1="475.98" x2="242.96" y2="475.87" stroke="#fafdf5" stroke-width="5.73"/>
<line x1="242.96" y1="475.87" x2="242.48" y2="475.76" stroke="#fbfdf7" stroke-width="5.71"/>
<line x1="242.48" y1="475.76" x2="242.04" y2="475.67" stroke="#fcfef8" stroke-width="5.69"/>
<line x1="242.04" y1="475.67" x2="241.65" y2="475.59" stroke="#fdfefa" stroke-width="5.67"/>
<line x1="241.65" y1="475.59" x2="241.3" y2="475.52" stroke="#fdfefb" stroke-width="5.65"/>
<line x1="241.3" y1="475.52" x2="241" y2="475.45" stroke="#fefffd" stroke-width="5.63"/>
<line x1="241" y1="475.45" x2="240.75" y2="475.4" stroke="#fffffe" stroke-width="5.61"/>
</g>
<ellipse cx="344.55" cy="181.4" rx="2.9" ry="2.7" fill="#b7dd52"/>
<g>
<circle cx="315.55" cy="144" r="17.8" fill="#9d9d9d"/>
<circle cx="666.93" cy="178.6" r="17.8" fill="#9d9d9d"/>
<circle cx="572.2" cy="401.7" r="17.8" fill="#9d9d9d"/>
<circle cx="497.05" cy="404.5" r="17.8" fill="#9d9d9d"/>
<circle cx="437.95" cy="422.4" r="17.8" fill="#9d9d9d"/>
<circle cx="397" cy="514.1" r="17.8" fill="#9d9d9d"/>
</g>
<g fill="none" stroke="#000" stroke-width="3.2" stroke-linecap="butt" stroke-linejoin="round">
<path d="M225 94 L224.64 94.03 L224.21 94.07 L223.71 94.12 L223.12 94.17 L222.44 94.23 L221.66 94.31 L220.77 94.4 L219.75 94.5 L218.57 94.61 L217.21 94.73 L215.72 94.86 L214.13 95.01 L212.5 95.17 L210.87 95.35 L209.27 95.56 L207.75 95.8 L206.28 96.06 L204.8 96.33 L203.32 96.63 L201.85 96.94 L200.41 97.29 L199.01 97.68 L197.65 98.12 L196.35 98.6 L195.06 99.19 L193.75 99.89 L192.46 100.67 L191.21 101.47 L190.06 102.26 L189.03 102.97 L188.17 103.57 L187.5 104"/>
<path d="M174 120 L173.72 120.28 L173.42 120.59 L173.07 120.94 L172.64 121.37 L172.1 121.92 L171.42 122.62 L170.56 123.5 L169.5 124.6 L168.17 125.97 L166.58 127.59 L164.79 129.42 L162.87 131.39 L160.89 133.44 L158.91 135.51 L157.01 137.55 L155.25 139.5 L153.63 141.31 L152.1 143.01 L150.61 144.68 L149.14 146.37 L147.65 148.15 L146.12 150.09 L144.52 152.25 L142.8 154.7 L140.95 157.51 L139 160.66 L136.97 164.06 L134.89 167.59 L132.8 171.18 L130.72 174.73 L128.69 178.13 L126.75 181.3 L124.84 184.31 L122.91 187.3 L120.98 190.22 L119.1 193.06 L117.28 195.79 L115.56 198.37 L113.95 200.79 L112.5 203 L111.22 204.98 L110.08 206.75 L109.07 208.34 L108.15 209.79 L107.3 211.15 L106.48 212.44 L105.68 213.71 L104.85 215 L103.99 216.33 L103.12 217.67 L102.27 218.99 L101.45 220.25 L100.69 221.42 L100.01 222.45 L99.44 223.33 L99 224"/>
<path d="M150 254 L149.46 254.45 L148.77 255.04 L147.96 255.74 L147.03 256.53 L146.03 257.38 L144.96 258.25 L143.85 259.14 L142.73 260 L141.54 260.85 L140.25 261.72 L138.9 262.61 L137.49 263.53 L136.07 264.48 L134.67 265.45 L133.3 266.46 L132 267.5 L130.74 268.61 L129.47 269.79 L128.22 271.03 L126.99 272.28 L125.81 273.53 L124.67 274.75 L123.61 275.92 L122.62 277 L121.7 278.04 L120.82 279.09 L119.99 280.12 L119.23 281.09 L118.53 282 L117.92 282.8 L117.41 283.48 L117 284"/>
<path d="M106.5 298 L106.1 298.39 L105.61 298.87 L105.03 299.45 L104.36 300.11 L103.62 300.83 L102.79 301.61 L101.9 302.44 L100.95 303.3 L99.86 304.23 L98.59 305.25 L97.22 306.34 L95.78 307.48 L94.36 308.64 L93.01 309.79 L91.78 310.92 L90.75 312 L89.89 313.05 L89.15 314.1 L88.51 315.14 L87.96 316.17 L87.47 317.18 L87.03 318.16 L86.63 319.1 L86.25 320 L85.91 320.83 L85.65 321.57 L85.43 322.26 L85.27 322.94 L85.13 323.62 L85 324.34 L84.88 325.12 L84.75 326 L84.62 327.04 L84.49 328.25 L84.38 329.55 L84.28 330.88 L84.19 332.15 L84.12 333.31 L84.05 334.29 L84 335"/>
<path d="M79.12 350 L78.98 350.65 L78.77 351.48 L78.53 352.45 L78.26 353.56 L77.99 354.79 L77.72 356.12 L77.46 357.53 L77.25 359 L77.04 360.61 L76.82 362.4 L76.6 364.32 L76.4 366.31 L76.22 368.33 L76.1 370.32 L76.03 372.23 L76.05 374 L76.16 375.66 L76.34 377.26 L76.59 378.81 L76.88 380.31 L77.21 381.78 L77.55 383.21 L77.89 384.62 L78.23 386 L78.57 387.36 L78.95 388.69 L79.35 389.98 L79.76 391.25 L80.16 392.48 L80.54 393.69 L80.87 394.86 L81.15 396 L81.37 397.15 L81.55 398.33 L81.7 399.5 L81.82 400.62 L81.92 401.67 L82 402.61 L82.06 403.4 L82.12 404"/>
<path d="M315 131 L315.53 130.58 L316.23 130.02 L317.05 129.37 L317.98 128.63 L318.98 127.84 L320.01 127.02 L321.04 126.2 L322.05 125.4 L323.05 124.59 L324.09 123.73 L325.16 122.85 L326.25 121.94 L327.37 121.04 L328.49 120.16 L329.62 119.3 L330.75 118.5 L331.91 117.74 L333.12 116.99 L334.35 116.27 L335.58 115.57 L336.8 114.89 L337.98 114.24 L339.09 113.61 L340.12 113 L341.11 112.4 L342.08 111.8 L343.02 111.21 L343.9 110.66 L344.71 110.14 L345.42 109.68 L346.03 109.3 L346.5 109"/>
<path d="M366 101.5 L366.44 101.3 L367.01 101.05 L367.68 100.75 L368.44 100.41 L369.27 100.04 L370.15 99.66 L371.07 99.28 L372 98.9 L372.98 98.51 L374.04 98.08 L375.16 97.64 L376.31 97.19 L377.49 96.74 L378.68 96.32 L379.85 95.94 L381 95.6 L382.11 95.31 L383.19 95.06 L384.27 94.84 L385.35 94.64 L386.44 94.46 L387.58 94.3 L388.76 94.15 L390 94 L391.34 93.87 L392.79 93.75 L394.31 93.65 L395.85 93.57 L397.37 93.49 L398.84 93.43 L400.22 93.36 L401.47 93.3 L402.64 93.24 L403.76 93.19 L404.83 93.15 L405.83 93.11 L406.74 93.07 L407.54 93.04 L408.22 93.02 L408.75 93"/>
<path d="M431.25 91.8 L431.6 91.74 L431.94 91.68 L432.34 91.6 L432.84 91.51 L433.53 91.4 L434.45 91.27 L435.67 91.1 L437.25 90.9 L439.27 90.66 L441.71 90.38 L444.47 90.07 L447.45 89.73 L450.57 89.38 L453.72 89.02 L456.81 88.66 L459.75 88.3 L462.61 87.94 L465.53 87.56 L468.47 87.17 L471.41 86.78 L474.31 86.39 L477.14 86.01 L479.87 85.64 L482.47 85.3 L484.94 84.97 L487.27 84.65 L489.52 84.34 L491.69 84.04 L493.82 83.75 L495.94 83.48 L498.08 83.23 L500.25 83 L502.41 82.78 L504.49 82.57 L506.55 82.36 L508.61 82.18 L510.72 82.03 L512.92 81.91 L515.24 81.83 L517.73 81.8 L520.39 81.83 L523.21 81.9 L526.14 82.01 L529.17 82.16 L532.25 82.34 L535.35 82.55 L538.45 82.77 L541.5 83 L544.65 83.27 L547.99 83.59 L551.41 83.95 L554.81 84.32 L558.08 84.69 L561.12 85.04 L563.83 85.35 L566.1 85.6 L567.92 85.8 L569.38 85.97 L570.55 86.1 L571.46 86.21 L572.19 86.3 L572.77 86.38 L573.28 86.44 L573.75 86.5"/>
<path d="M594 90.5 L594.52 90.63 L595.2 90.8 L596.02 90.99 L596.93 91.21 L597.89 91.46 L598.87 91.75 L599.84 92.06 L600.75 92.4 L601.64 92.77 L602.56 93.16 L603.49 93.58 L604.43 94.03 L605.35 94.51 L606.26 95.03 L607.13 95.59 L607.95 96.2 L608.72 96.86 L609.46 97.58 L610.16 98.34 L610.84 99.14 L611.51 99.97 L612.17 100.81 L612.83 101.66 L613.5 102.5 L614.18 103.35 L614.85 104.24 L615.52 105.13 L616.19 106.04 L616.85 106.95 L617.51 107.86 L618.17 108.74 L618.83 109.6 L619.51 110.48 L620.25 111.4 L621 112.33 L621.75 113.24 L622.44 114.1 L623.07 114.87 L623.6 115.51 L624 116"/>
<path d="M646.5 247 L646.96 247.4 L647.53 247.9 L648.2 248.51 L648.97 249.19 L649.84 249.93 L650.79 250.73 L651.83 251.55 L652.95 252.4 L654.22 253.3 L655.68 254.3 L657.27 255.36 L658.93 256.45 L660.6 257.55 L662.21 258.63 L663.7 259.65 L665.03 260.6 L666.2 261.46 L667.31 262.25 L668.33 262.99 L669.29 263.71 L670.17 264.43 L670.98 265.17 L671.71 265.95 L672.38 266.8 L672.94 267.71 L673.42 268.67 L673.8 269.66 L674.12 270.68 L674.39 271.71 L674.61 272.74 L674.81 273.78 L675 274.8 L675.16 275.87 L675.26 277.03 L675.32 278.22 L675.35 279.4 L675.36 280.52 L675.36 281.52 L675.36 282.37 L675.38 283"/>
<path d="M667.5 298 L667.22 298.57 L666.9 299.24 L666.52 300.02 L666.08 300.94 L665.53 302.03 L664.88 303.3 L664.09 304.79 L663.15 306.5 L662.01 308.57 L660.67 311.04 L659.17 313.78 L657.57 316.68 L655.92 319.6 L654.27 322.45 L652.66 325.09 L651.15 327.4 L649.75 329.41 L648.41 331.24 L647.11 332.92 L645.82 334.49 L644.49 335.98 L643.11 337.42 L641.64 338.85 L640.05 340.3 L638.31 341.76 L636.43 343.19 L634.45 344.58 L632.42 345.94 L630.38 347.27 L628.37 348.55 L626.43 349.8 L624.6 351 L622.91 352.12 L621.34 353.15 L619.84 354.12 L618.37 355.06 L616.89 356.01 L615.35 356.99 L613.71 358.04 L611.93 359.2 L609.99 360.45 L607.94 361.76 L605.8 363.12 L603.6 364.53 L601.36 365.98 L599.12 367.46 L596.91 368.97 L594.75 370.5 L592.57 372.11 L590.32 373.83 L588.03 375.61 L585.77 377.41 L583.59 379.17 L581.52 380.86 L579.62 382.42 L577.95 383.8 L576.48 385.04 L575.15 386.2 L573.97 387.26 L572.93 388.23 L572.01 389.1 L571.22 389.85 L570.55 390.49 L570 391"/>
<path d="M660 386.5 L660.24 386.26 L660.42 386.07 L660.63 385.86 L660.93 385.56 L661.41 385.07 L662.14 384.34 L663.19 383.27 L664.65 381.8 L666.7 379.73 L669.36 377.04 L672.42 373.95 L675.7 370.64 L678.98 367.32 L682.08 364.19 L684.8 361.45 L686.93 359.3 L688.5 357.71 L689.73 356.48 L690.66 355.54 L691.35 354.84 L691.88 354.32 L692.29 353.91 L692.64 353.56 L693 353.2"/>
<path d="M424.5 422.7 L424.25 423.27 L423.98 423.86 L423.67 424.55 L423.29 425.41 L422.8 426.51 L422.17 427.91 L421.37 429.68 L420.38 431.9 L419.13 434.66 L417.64 437.95 L415.97 441.65 L414.17 445.63 L412.3 449.79 L410.41 453.99 L408.56 458.14 L406.8 462.1 L405.04 466.11 L403.18 470.36 L401.28 474.73 L399.41 479.06 L397.61 483.22 L395.96 487.06 L394.5 490.43 L393.3 493.2 L392.38 495.33 L391.68 496.93 L391.17 498.11 L390.81 498.94 L390.55 499.54 L390.35 499.99 L390.18 500.37 L390 500.8"/>
</g>
<g fill="#000">
<circle cx="142.8" cy="154.7" r="3"/>
<circle cx="126.75" cy="181.3" r="3"/>
<circle cx="482.47" cy="85.3" r="3"/>
<circle cx="517.73" cy="81.8" r="3"/>
<circle cx="640.05" cy="340.3" r="3"/>
<circle cx="611.93" cy="359.2" r="3"/>
<circle cx="406.8" cy="462.1" r="3"/>
</g>
<g>
<path d="M249.3 108.2 Q253.7 90.69 253.51 86.06 A17.8 17.8 0 1 0 227.48 102.57 Q231.58 104.72 249.3 108.2Z" fill="url(#g0)" stroke="#a8d23c" stroke-width="0.9" stroke-linejoin="round"/>
<path d="M182.85 134.9 Q195.11 120.28 196.36 117.39 A17.8 17.8 0 1 0 165.73 120.89 Q167.61 123.42 182.85 134.9Z" fill="url(#g1)" stroke="#a8d23c" stroke-width="0.9" stroke-linejoin="round"/>
<path d="M119.02 231.6 Q108.62 217.32 104.49 214.16 A17.8 17.8 0 1 0 100.51 244.74 Q105.31 242.74 119.02 231.6Z" fill="url(#g2)" stroke="#a8d23c" stroke-width="0.9" stroke-linejoin="round"/>
<path d="M146.33 228.2 Q141.3 244.91 141.28 250.43 A17.8 17.8 0 1 0 168.04 235.12 Q163.28 232.35 146.33 228.2Z" fill="url(#g3)" stroke="#a8d23c" stroke-width="0.9" stroke-linejoin="round"/>
<path d="M90.75 281.7 Q95.55 297.89 99 303.2 A17.8 17.8 0 1 0 112.99 275.72 Q106.67 276.06 90.75 281.7Z" fill="url(#g4)" stroke="#a8d23c" stroke-width="0.9" stroke-linejoin="round"/>
<path d="M57.9 335.7 Q65.11 350.69 69.61 355.65 A17.8 17.8 0 1 0 79.04 326.3 Q72.49 327.72 57.9 335.7Z" fill="url(#g5)" stroke="#7474ea" stroke-width="0.9" stroke-linejoin="round"/>
<path d="M101.5 400.23 Q86.12 396.38 78.29 396.72 A17.8 17.8 0 1 0 94.83 422.73 Q98.46 415.78 101.5 400.23Z" fill="url(#g6)" stroke="#a8d23c" stroke-width="0.9" stroke-linejoin="round"/>
<path d="M283.5 132.6 Q291.44 148.87 294.53 152.23 A17.8 17.8 0 1 0 303.79 122.82 Q299.33 123.82 283.5 132.6Z" fill="url(#g7)" stroke="#edecd4" stroke-width="0.9" stroke-linejoin="round"/>
<path d="M373.03 121.23 Q373.13 105.39 370.95 97.85 A17.8 17.8 0 1 0 349.58 120.08 Q357.2 121.96 373.03 121.23Z" fill="url(#g8)" stroke="#8ad3f0" stroke-width="0.9" stroke-linejoin="round"/>
<path d="M412.35 114.7 Q428.6 106.45 431.79 103.43 A17.8 17.8 0 1 0 402.24 94.63 Q403.26 98.91 412.35 114.7Z" fill="url(#g9)" stroke="#a8d23c" stroke-width="0.9" stroke-linejoin="round"/>
<path d="M567.98 105.6 Q584.75 103.89 590.64 101.46 A17.8 17.8 0 1 0 566.23 82.63 Q565.38 88.94 567.98 105.6Z" fill="url(#g10)" stroke="#edecd4" stroke-width="0.9" stroke-linejoin="round"/>
<path d="M652.28 108.8 Q635.39 105.36 629.58 105.87 A17.8 17.8 0 1 0 647.26 131.13 Q649.72 125.84 652.28 108.8Z" fill="url(#g11)" stroke="#edecd4" stroke-width="0.9" stroke-linejoin="round"/>
<path d="M635.18 185.7 Q650.49 191.87 657.34 192.52 A17.8 17.8 0 1 0 644.52 164.48 Q640.53 170.09 635.18 185.7Z" fill="url(#g12)" stroke="#a8d23c" stroke-width="0.9" stroke-linejoin="round"/>
<path d="M621 244.1 Q635.93 251.78 642.29 252.99 A17.8 17.8 0 1 0 632.11 223.89 Q627.89 228.78 621 244.1Z" fill="url(#g13)" stroke="#8ad3f0" stroke-width="0.9" stroke-linejoin="round"/>
<path d="M648.08 288.9 Q658.33 303.87 661.82 306.71 A17.8 17.8 0 1 0 666.7 276.27 Q662.49 277.88 648.08 288.9Z" fill="url(#g14)" stroke="#edecd4" stroke-width="0.9" stroke-linejoin="round"/>
<path d="M677.97 336.08 Q681.18 351.59 684.89 358.51 A17.8 17.8 0 1 0 701.14 332.31 Q693.3 332.06 677.97 336.08Z" fill="url(#g15)" stroke="#e7672a" stroke-width="0.9" stroke-linejoin="round"/>
<path d="M640.58 375.4 Q638.72 393.63 639.51 397.8 A17.8 17.8 0 1 0 662.88 377.7 Q658.88 376.3 640.58 375.4Z" fill="url(#g16)" stroke="#8ad3f0" stroke-width="0.9" stroke-linejoin="round"/>
<path d="M569.55 374.1 Q552.62 384.3 551.16 385.89 A17.8 17.8 0 1 0 581.27 392.53 Q580.62 390.48 569.55 374.1Z" fill="url(#g17)" stroke="#a8d23c" stroke-width="0.9" stroke-linejoin="round"/>
<path d="M484.2 377.3 Q472.53 394.24 472.23 395.18 A17.8 17.8 0 1 0 502.39 388.8 Q501.72 388.06 484.2 377.3Z" fill="url(#g18)" stroke="#a8d23c" stroke-width="0.9" stroke-linejoin="round"/>
<path d="M406.88 406.2 Q411.22 422.02 414.93 427.99 A17.8 17.8 0 1 0 429.48 400.81 Q422.44 401.04 406.88 406.2Z" fill="url(#g19)" stroke="#e7672a" stroke-width="0.9" stroke-linejoin="round"/>
<path d="M369.68 492.6 Q370.01 509 372.14 515.7 A17.8 17.8 0 1 0 392.9 492.91 Q386.04 491.41 369.68 492.6Z" fill="url(#g20)" stroke="#a8d23c" stroke-width="0.9" stroke-linejoin="round"/>
<path d="M319.67 518.33 Q316.64 533.88 317.38 541.69 A17.8 17.8 0 1 0 342.5 523.81 Q335.36 520.55 319.67 518.33Z" fill="url(#g21)" stroke="#a8d23c" stroke-width="0.9" stroke-linejoin="round"/>
</g>
<circle cx="412.2" cy="217.3" r="7.2" fill="url(#halo)"/>
<circle cx="410.7" cy="259.3" r="6.6" fill="url(#halo)"/>
<g stroke="#0a0a0a" stroke-width="1.55" stroke-linecap="round">
<line x1="204.15" y1="336.3" x2="234.19" y2="319.47"/>
<line x1="246.52" y1="319.54" x2="275.62" y2="336.3"/>
<line x1="247.67" y1="324.94" x2="270.37" y2="338.02"/>
<line x1="275.62" y1="336.3" x2="276.53" y2="377.4"/>
<line x1="276.53" y1="377.4" x2="240.38" y2="397.5"/>
<line x1="270.55" y1="376.02" x2="242.36" y2="391.7"/>
<line x1="240.38" y1="397.5" x2="204.15" y2="378.3"/>
<line x1="204.15" y1="378.3" x2="204.15" y2="336.3"/>
<line x1="208.26" y1="373.68" x2="208.26" y2="340.92"/>
<line x1="275.62" y1="336.3" x2="302.97" y2="320.34"/>
<line x1="309.95" y1="307.8" x2="310.12" y2="277.1"/>
<line x1="309.08" y1="279.04" x2="281.38" y2="264.09"/>
<line x1="311.17" y1="275.16" x2="283.47" y2="260.22"/>
<line x1="310.12" y1="277.1" x2="343.5" y2="257.7"/>
<line x1="343.5" y1="257.7" x2="370.72" y2="273.89"/>
<line x1="384.62" y1="274.03" x2="411.08" y2="259"/>
<line x1="411.08" y1="259" x2="412.72" y2="217.5"/>
<line x1="415.36" y1="254.6" x2="416.65" y2="222.23"/>
<line x1="412.72" y1="217.5" x2="447.83" y2="196.5"/>
<line x1="447.83" y1="196.5" x2="482.25" y2="218"/>
<line x1="449.44" y1="202.35" x2="476.29" y2="219.12"/>
<line x1="482.25" y1="218" x2="482.85" y2="259.9"/>
<line x1="482.85" y1="259.9" x2="446.7" y2="279.3"/>
<line x1="476.93" y1="258.42" x2="448.73" y2="273.55"/>
<line x1="446.7" y1="279.3" x2="411.08" y2="259"/>
<line x1="482.25" y1="218" x2="518.7" y2="198.8"/>
<line x1="518.7" y1="198.8" x2="554.33" y2="219.3"/>
<line x1="520.57" y1="204.61" x2="548.36" y2="220.6"/>
<line x1="554.33" y1="219.3" x2="552.15" y2="259.4"/>
<line x1="552.15" y1="259.4" x2="524.31" y2="276.07"/>
<line x1="510.49" y1="276.13" x2="482.85" y2="259.9"/>
<line x1="553.27" y1="257.51" x2="581.38" y2="274.09"/>
<line x1="551.03" y1="261.29" x2="579.15" y2="277.88"/>
<line x1="276.53" y1="377.4" x2="311.03" y2="396"/>
<line x1="311.03" y1="396" x2="338.02" y2="380.5"/>
<line x1="313.22" y1="396.01" x2="313.11" y2="427.11"/>
<line x1="308.83" y1="395.99" x2="308.71" y2="427.09"/>
</g>
</g>
<g>
<line x1="149.7" y1="243.2" x2="320.8" y2="356.4" stroke="#1f9a3a" stroke-width="1.15"/>
<ellipse cx="149.7" cy="243.2" rx="3.3" ry="2.9" fill="#12922c"/>
<ellipse cx="320.8" cy="356.4" rx="3.0" ry="2.5" fill="#12922c"/>
<line x1="655.7" y1="377.6" x2="690.5" y2="239.6" stroke="#1f9a3a" stroke-width="1.15"/>
<ellipse cx="655.7" cy="377.6" rx="3.3" ry="2.9" fill="#12922c"/>
<ellipse cx="690.5" cy="239.6" rx="3.0" ry="2.5" fill="#12922c"/>
</g>
<g class="t"><text x="239.3" y="32" textLength="87.8" lengthAdjust="spacingAndGlyphs">4EY7</text><text x="337.9" y="29.8" textLength="15.1" lengthAdjust="spacingAndGlyphs">-</text><text x="363.75" y="32" textLength="229.9" lengthAdjust="spacingAndGlyphs">preprocessed</text><text x="603.6" y="29.8" textLength="16" lengthAdjust="spacingAndGlyphs">-</text><text x="629.7" y="32" textLength="166.8" lengthAdjust="spacingAndGlyphs">Fragment</text></g>
<g class="r">
<text x="305.05" y="86.5" textLength="22.6" lengthAdjust="spacingAndGlyphs">TYR</text>
<text x="303.9" y="98.4" textLength="20.9" lengthAdjust="spacingAndGlyphs">337</text>
<text x="229.35" y="111" textLength="23.2" lengthAdjust="spacingAndGlyphs">PHE</text>
<text x="228.5" y="122.9" textLength="20.9" lengthAdjust="spacingAndGlyphs">338</text>
<text x="117.25" y="227.1" textLength="22.6" lengthAdjust="spacingAndGlyphs">TYR</text>
<text x="116.1" y="239" textLength="20.9" lengthAdjust="spacingAndGlyphs">341</text>
<text x="198.45" y="246" textLength="21.4" lengthAdjust="spacingAndGlyphs">VAL</text>
<text x="196.7" y="257.9" textLength="20.9" lengthAdjust="spacingAndGlyphs">294</text>
<text x="136.9" y="290.2" textLength="23.2" lengthAdjust="spacingAndGlyphs">PHE</text>
<text x="136.05" y="302.1" textLength="20.9" lengthAdjust="spacingAndGlyphs">295</text>
<text x="94.1" y="340.5" textLength="24.6" lengthAdjust="spacingAndGlyphs">ARG</text>
<text x="93.95" y="352.4" textLength="20.9" lengthAdjust="spacingAndGlyphs">296</text>
<text x="97.95" y="410.05" textLength="23.2" lengthAdjust="spacingAndGlyphs">PHE</text>
<text x="97.1" y="421.95" textLength="20.9" lengthAdjust="spacingAndGlyphs">297</text>
<text x="395.75" y="136.9" textLength="22" lengthAdjust="spacingAndGlyphs">GLY</text>
<text x="394.3" y="148.8" textLength="20.9" lengthAdjust="spacingAndGlyphs">126</text>
<text x="464.25" y="104" textLength="22.6" lengthAdjust="spacingAndGlyphs">SER</text>
<text x="463.1" y="115.9" textLength="20.9" lengthAdjust="spacingAndGlyphs">125</text>
<text x="546.3" y="90.4" textLength="22.6" lengthAdjust="spacingAndGlyphs">TYR</text>
<text x="545.15" y="102.3" textLength="20.9" lengthAdjust="spacingAndGlyphs">124</text>
<text x="764.95" y="85.8" textLength="22" lengthAdjust="spacingAndGlyphs">GLY</text>
<text x="763.5" y="97.7" textLength="20.9" lengthAdjust="spacingAndGlyphs">121</text>
<text x="833.8" y="118.9" textLength="22" lengthAdjust="spacingAndGlyphs">GLY</text>
<text x="832.35" y="130.8" textLength="20.9" lengthAdjust="spacingAndGlyphs">120</text>
<text x="864.55" y="174.5" textLength="22.6" lengthAdjust="spacingAndGlyphs">TYR</text>
<text x="863.4" y="186.4" textLength="20.9" lengthAdjust="spacingAndGlyphs">133</text>
<text x="845.5" y="235" textLength="21.8" lengthAdjust="spacingAndGlyphs">HID</text>
<text x="843.95" y="246.9" textLength="20.9" lengthAdjust="spacingAndGlyphs">447</text>
<text x="883.1" y="289.7" textLength="22" lengthAdjust="spacingAndGlyphs">GLY</text>
<text x="881.65" y="301.6" textLength="20.9" lengthAdjust="spacingAndGlyphs">448</text>
<text x="918.95" y="345.7" textLength="22.8" lengthAdjust="spacingAndGlyphs">GLU</text>
<text x="917.9" y="357.6" textLength="20.9" lengthAdjust="spacingAndGlyphs">202</text>
<text x="861.1" y="391.4" textLength="22.6" lengthAdjust="spacingAndGlyphs">SER</text>
<text x="859.95" y="403.3" textLength="20.9" lengthAdjust="spacingAndGlyphs">203</text>
<text x="745.15" y="395" textLength="18" lengthAdjust="spacingAndGlyphs">ILE</text>
<text x="741.7" y="406.9" textLength="20.9" lengthAdjust="spacingAndGlyphs">451</text>
<text x="640.45" y="397.4" textLength="21.8" lengthAdjust="spacingAndGlyphs">TRP</text>
<text x="642.65" y="409.3" textLength="13.4" lengthAdjust="spacingAndGlyphs">86</text>
<text x="559.05" y="414.2" textLength="22.2" lengthAdjust="spacingAndGlyphs">ASP</text>
<text x="561.45" y="426.1" textLength="13.4" lengthAdjust="spacingAndGlyphs">74</text>
<text x="504.9" y="506.6" textLength="22.6" lengthAdjust="spacingAndGlyphs">TYR</text>
<text x="507.5" y="518.5" textLength="13.4" lengthAdjust="spacingAndGlyphs">72</text>
<text x="432.5" y="535.2" textLength="21.8" lengthAdjust="spacingAndGlyphs">TRP</text>
<text x="430.95" y="547.1" textLength="20.9" lengthAdjust="spacingAndGlyphs">286</text>
</g>
<g class="a"><text transform="translate(320.5 320.9) scale(1.36 1)" text-anchor="middle">N</text><text transform="translate(419.8 321.2) scale(1.36 1)" text-anchor="middle">NH</text><text transform="translate(366.8 263.1) scale(1.35 1)" text-anchor="middle">O</text><text transform="translate(503.5 283.1) scale(1.35 1)" text-anchor="middle">O</text><text transform="translate(689.9 285.3) scale(1.35 1)" text-anchor="middle">O</text><text transform="translate(783.2 285.3) scale(1.35 1)" text-anchor="middle">O</text><text transform="translate(460 381.5) scale(1.35 1)" text-anchor="middle">O</text><text transform="translate(414.5 440.7) scale(1.35 1)" text-anchor="middle">O</text><text transform="translate(470.7 377.2) scale(1.3 1)" text-anchor="middle" style="font-size:11px">&#8722;</text></g>
</svg>
</body></html>
